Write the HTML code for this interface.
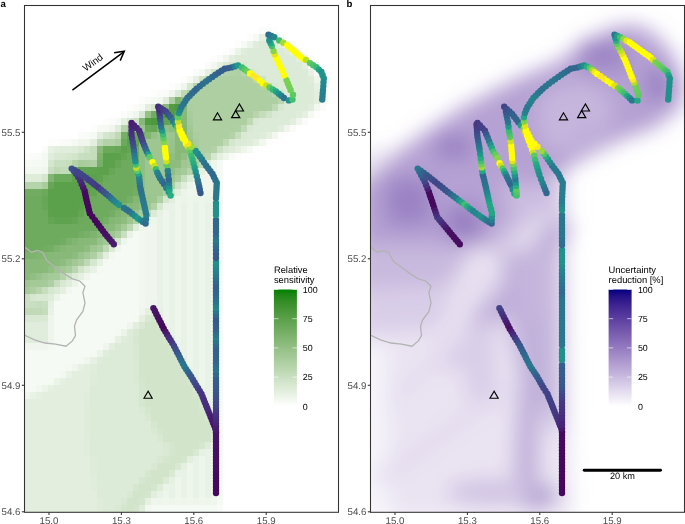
<!DOCTYPE html><html><head><meta charset="utf-8"><style>html,body{margin:0;padding:0;background:#fff;width:685px;height:524px;overflow:hidden}svg{display:block}</style></head><body><svg width="685" height="524" viewBox="0 0 685 524" text-rendering="geometricPrecision" font-family="Liberation Sans, Arial, Helvetica, sans-serif"><defs><clipPath id="ca"><rect x="24.5" y="5.5" width="314" height="506.5"/></clipPath><clipPath id="cb"><rect x="370.5" y="5.5" width="314" height="506.5"/></clipPath><filter id="fa" x="-10%" y="-10%" width="120%" height="120%"><feGaussianBlur stdDeviation="2"/></filter><filter id="fb" x="-20%" y="-20%" width="140%" height="140%"><feGaussianBlur stdDeviation="10"/></filter></defs><rect width="685" height="524" fill="#fff"/><g clip-path="url(#ca)"><g shape-rendering="crispEdges"><path fill="#fdfefc" d="M271.5 26.8H277.5V33.9H271.5zM247.4 33.8H253.4V40.9H247.4zM235.3 40.9H241.3V48.0H235.3zM223.2 47.9H229.2V55.0H223.2zM301.7 47.9H307.7V55.0H301.7zM211.1 54.9H217.2V62.0H211.1zM319.8 69.0H325.8V76.1H319.8zM181.0 76.0H187.0V83.1H181.0zM168.9 83.1H174.9V90.1H168.9zM325.8 83.1H331.8V90.1H325.8zM150.8 90.1H156.8V97.2H150.8zM325.8 90.1H331.8V97.2H325.8zM138.7 97.1H144.8V104.2H138.7zM325.8 97.1H331.8V104.2H325.8zM126.7 104.1H132.7V111.2H126.7zM313.7 111.2H319.8V118.3H313.7zM102.5 118.2H108.6V125.3H102.5zM90.4 125.2H96.5V132.3H90.4zM277.5 132.3H283.6V139.3H277.5zM48.2 139.3H60.3V146.4H48.2zM265.5 139.3H271.5V146.4H265.5zM253.4 146.3H259.4V153.4H253.4zM24.1 153.4H30.1V160.4H24.1zM235.3 153.4H241.3V160.4H235.3z"/><path fill="#fbfcfa" d="M259.4 26.8H265.5V33.9H259.4zM289.6 40.9H295.6V48.0H289.6zM307.7 54.9H313.7V62.0H307.7zM205.1 62.0H211.1V69.0H205.1zM313.7 62.0H319.8V69.0H313.7zM193.0 69.0H199.1V76.1H193.0zM156.8 90.1H162.9V97.2H156.8zM132.7 104.1H138.7V111.2H132.7zM319.8 104.1H325.8V111.2H319.8zM120.6 111.2H126.7V118.3H120.6zM108.6 118.2H114.6V125.3H108.6zM301.7 118.2H307.7V125.3H301.7zM289.6 125.2H295.6V132.3H289.6zM78.4 132.3H84.4V139.3H78.4zM60.3 139.3H66.3V146.4H60.3zM42.2 146.3H48.2V153.4H42.2zM30.1 153.4H36.1V160.4H30.1z"/><path fill="#f8fbf7" d="M265.5 26.8H271.5V33.9H265.5zM277.5 33.8H283.6V40.9H277.5zM229.2 47.9H235.3V55.0H229.2zM217.2 54.9H223.2V62.0H217.2zM319.8 76.0H325.8V83.1H319.8zM174.9 83.1H181.0V90.1H174.9zM162.9 90.1H168.9V97.2H162.9zM144.8 97.1H150.8V104.2H144.8zM84.4 132.3H90.4V139.3H84.4zM66.3 139.3H72.3V146.4H66.3zM36.1 153.4H42.2V160.4H36.1zM229.2 153.4H235.3V160.4H229.2zM217.2 504.9H223.2V511.9H217.2zM217.2 511.9H223.2V519.0H217.2z"/><path fill="#f6faf5" d="M253.4 33.8H259.4V40.9H253.4zM241.3 40.9H247.4V48.0H241.3zM295.6 47.9H301.7V55.0H295.6zM313.7 69.0H319.8V76.1H313.7zM187.0 76.0H193.0V83.1H187.0zM319.8 83.1H325.8V90.1H319.8zM150.8 97.1H156.8V104.2H150.8zM138.7 104.1H144.8V111.2H138.7zM126.7 111.2H132.7V118.3H126.7zM114.6 118.2H120.6V125.3H114.6zM96.5 125.2H102.5V132.3H96.5zM90.4 132.3H96.5V139.3H90.4zM247.4 146.3H253.4V153.4H247.4zM24.1 160.4H42.2V167.5H24.1zM217.2 160.4H223.2V167.5H217.2zM217.2 167.4H223.2V174.5H217.2zM217.2 174.4H223.2V181.5H217.2zM217.2 181.5H223.2V188.6H217.2zM217.2 188.5H223.2V195.6H217.2zM217.2 195.5H223.2V202.6H217.2zM217.2 202.6H223.2V209.6H217.2zM217.2 209.6H223.2V216.7H217.2zM217.2 216.6H223.2V223.7H217.2zM217.2 223.7H223.2V230.7H217.2zM217.2 230.7H223.2V237.8H217.2zM126.7 237.7H138.7V244.8H126.7zM217.2 237.7H223.2V244.8H217.2zM120.6 244.7H138.7V251.8H120.6zM217.2 244.7H223.2V251.8H217.2zM114.6 251.8H138.7V258.9H114.6zM217.2 251.8H223.2V258.9H217.2zM108.6 258.8H138.7V265.9H108.6zM217.2 258.8H223.2V265.9H217.2zM102.5 265.8H138.7V272.9H102.5zM217.2 265.8H223.2V272.9H217.2zM90.4 272.9H138.7V279.9H90.4zM217.2 272.9H223.2V279.9H217.2zM84.4 279.9H138.7V287.0H84.4zM217.2 279.9H223.2V287.0H217.2zM72.3 286.9H138.7V294.0H72.3zM217.2 286.9H223.2V294.0H217.2zM66.3 293.9H138.7V301.0H66.3zM217.2 293.9H223.2V301.0H217.2zM54.2 301.0H138.7V308.1H54.2zM217.2 301.0H223.2V308.1H217.2zM54.2 308.0H138.7V315.1H54.2zM217.2 308.0H223.2V315.1H217.2zM54.2 315.0H132.7V322.1H54.2zM217.2 315.0H223.2V322.1H217.2zM54.2 322.1H126.7V329.1H54.2zM217.2 322.1H223.2V329.1H217.2zM54.2 329.1H114.6V336.2H54.2zM217.2 329.1H223.2V336.2H217.2zM54.2 336.1H108.6V343.2H54.2zM217.2 336.1H223.2V343.2H217.2zM54.2 343.2H102.5V350.2H54.2zM217.2 343.2H223.2V350.2H217.2zM24.1 350.2H90.4V357.3H24.1zM217.2 350.2H223.2V357.3H217.2zM24.1 357.2H78.4V364.3H24.1zM217.2 357.2H223.2V364.3H217.2zM24.1 364.2H66.3V371.3H24.1zM217.2 364.2H223.2V371.3H217.2zM24.1 371.3H60.3V378.4H24.1zM217.2 371.3H223.2V378.4H217.2zM24.1 378.3H48.2V385.4H24.1zM217.2 378.3H223.2V385.4H217.2zM24.1 385.3H36.1V392.4H24.1zM217.2 385.3H223.2V392.4H217.2zM217.2 392.4H223.2V399.4H217.2zM217.2 399.4H223.2V406.5H217.2zM217.2 406.4H223.2V413.5H217.2zM217.2 413.5H223.2V420.5H217.2zM217.2 420.5H223.2V427.6H217.2zM217.2 441.6H223.2V448.7H217.2zM217.2 448.6H223.2V455.7H217.2zM217.2 455.6H223.2V462.7H217.2zM217.2 462.7H223.2V469.8H217.2zM217.2 469.7H223.2V476.8H217.2zM217.2 476.7H223.2V483.8H217.2zM217.2 483.8H223.2V490.8H217.2zM217.2 490.8H223.2V497.9H217.2zM217.2 497.8H223.2V504.9H217.2zM150.8 504.9H217.2V511.9H150.8zM150.8 511.9H217.2V519.0H150.8z"/><path fill="#f4f9f2" d="M199.1 69.0H205.1V76.1H199.1zM319.8 90.1H325.8V97.2H319.8zM319.8 97.1H325.8V104.2H319.8zM307.7 111.2H313.7V118.3H307.7zM102.5 125.2H108.6V132.3H102.5zM72.3 139.3H78.4V146.4H72.3zM42.2 153.4H48.2V160.4H42.2zM42.2 160.4H48.2V167.5H42.2zM132.7 230.7H138.7V237.8H132.7zM102.5 258.8H108.6V265.9H102.5zM96.5 265.8H102.5V272.9H96.5zM78.4 279.9H84.4V287.0H78.4zM60.3 293.9H66.3V301.0H60.3zM132.7 315.0H138.7V322.1H132.7zM114.6 329.1H120.6V336.2H114.6zM108.6 336.1H114.6V343.2H108.6zM48.2 343.2H54.2V350.2H48.2zM90.4 350.2H96.5V357.3H90.4zM78.4 357.2H84.4V364.3H78.4zM66.3 364.2H72.3V371.3H66.3zM48.2 378.3H54.2V385.4H48.2zM217.2 427.5H223.2V434.6H217.2zM217.2 434.6H223.2V441.6H217.2zM144.8 511.9H150.8V519.0H144.8z"/><path fill="#f2f7f0" d="M301.7 54.9H307.7V62.0H301.7zM211.1 62.0H217.2V69.0H211.1zM307.7 62.0H313.7V69.0H307.7zM156.8 97.1H162.9V104.2H156.8zM313.7 104.1H319.8V111.2H313.7zM271.5 132.3H277.5V139.3H271.5zM259.4 139.3H265.5V146.4H259.4zM24.1 167.4H42.2V174.5H24.1zM138.7 230.7H144.8V237.8H138.7zM138.7 237.7H144.8V244.8H138.7zM138.7 244.7H144.8V251.8H138.7zM108.6 251.8H114.6V258.9H108.6zM138.7 251.8H144.8V258.9H138.7zM138.7 258.8H144.8V265.9H138.7zM138.7 265.8H144.8V272.9H138.7zM138.7 272.9H144.8V279.9H138.7zM138.7 279.9H144.8V287.0H138.7zM66.3 286.9H72.3V294.0H66.3zM138.7 286.9H144.8V294.0H138.7zM138.7 293.9H144.8V301.0H138.7zM138.7 301.0H144.8V308.1H138.7zM60.3 371.3H66.3V378.4H60.3zM36.1 385.3H42.2V392.4H36.1zM144.8 504.9H150.8V511.9H144.8z"/><path fill="#f0f6ed" d="M283.6 40.9H289.6V48.0H283.6zM223.2 54.9H229.2V62.0H223.2zM181.0 83.1H187.0V90.1H181.0zM168.9 90.1H174.9V97.2H168.9zM132.7 111.2H138.7V118.3H132.7zM295.6 118.2H301.7V125.3H295.6zM108.6 125.2H114.6V132.3H108.6zM283.6 125.2H289.6V132.3H283.6zM78.4 139.3H90.4V146.4H78.4zM42.2 167.4H48.2V174.5H42.2zM205.1 167.4H217.2V174.5H205.1zM199.1 174.4H217.2V181.5H199.1zM193.0 181.5H217.2V188.6H193.0zM187.0 188.5H193.0V195.6H187.0zM199.1 188.5H205.1V195.6H199.1zM211.1 188.5H217.2V195.6H211.1zM144.8 223.7H156.8V230.7H144.8zM144.8 230.7H156.8V237.8H144.8zM144.8 237.7H156.8V244.8H144.8zM114.6 244.7H120.6V251.8H114.6zM144.8 244.7H156.8V251.8H144.8zM144.8 251.8H156.8V258.9H144.8zM144.8 258.8H156.8V265.9H144.8zM144.8 265.8H156.8V272.9H144.8zM84.4 272.9H90.4V279.9H84.4zM144.8 272.9H156.8V279.9H144.8zM144.8 279.9H156.8V287.0H144.8zM144.8 286.9H156.8V294.0H144.8zM144.8 293.9H156.8V301.0H144.8zM144.8 301.0H150.8V308.1H144.8zM138.7 308.0H144.8V315.1H138.7zM126.7 322.1H132.7V329.1H126.7zM24.1 343.2H48.2V350.2H24.1zM102.5 343.2H108.6V350.2H102.5zM84.4 357.2H90.4V364.3H84.4zM72.3 364.2H78.4V371.3H72.3zM24.1 392.4H30.1V399.4H24.1zM150.8 497.8H156.8V504.9H150.8zM162.9 497.8H168.9V504.9H162.9zM174.9 497.8H181.0V504.9H174.9zM187.0 497.8H193.0V504.9H187.0zM199.1 497.8H205.1V504.9H199.1zM211.1 497.8H217.2V504.9H211.1z"/><path fill="#eef5eb" d="M313.7 76.0H319.8V83.1H313.7zM241.3 146.3H247.4V153.4H241.3zM223.2 153.4H229.2V160.4H223.2zM211.1 160.4H217.2V167.5H211.1zM193.0 188.5H199.1V195.6H193.0zM205.1 188.5H211.1V195.6H205.1zM174.9 195.5H181.0V202.6H174.9zM187.0 195.5H193.0V202.6H187.0zM199.1 195.5H205.1V202.6H199.1zM211.1 195.5H217.2V202.6H211.1zM174.9 202.6H181.0V209.6H174.9zM187.0 202.6H193.0V209.6H187.0zM199.1 202.6H205.1V209.6H199.1zM211.1 202.6H217.2V209.6H211.1zM162.9 209.6H168.9V216.7H162.9zM174.9 209.6H181.0V216.7H174.9zM187.0 209.6H193.0V216.7H187.0zM199.1 209.6H205.1V216.7H199.1zM211.1 209.6H217.2V216.7H211.1zM150.8 216.6H156.8V223.7H150.8zM162.9 216.6H168.9V223.7H162.9zM174.9 216.6H181.0V223.7H174.9zM187.0 216.6H193.0V223.7H187.0zM199.1 216.6H205.1V223.7H199.1zM211.1 216.6H217.2V223.7H211.1zM138.7 223.7H144.8V230.7H138.7zM162.9 223.7H168.9V230.7H162.9zM174.9 223.7H181.0V230.7H174.9zM187.0 223.7H193.0V230.7H187.0zM199.1 223.7H205.1V230.7H199.1zM211.1 223.7H217.2V230.7H211.1zM162.9 230.7H168.9V237.8H162.9zM174.9 230.7H181.0V237.8H174.9zM187.0 230.7H193.0V237.8H187.0zM199.1 230.7H205.1V237.8H199.1zM211.1 230.7H217.2V237.8H211.1zM120.6 237.7H126.7V244.8H120.6zM162.9 237.7H168.9V244.8H162.9zM174.9 237.7H181.0V244.8H174.9zM187.0 237.7H193.0V244.8H187.0zM199.1 237.7H205.1V244.8H199.1zM211.1 237.7H217.2V244.8H211.1zM162.9 244.7H168.9V251.8H162.9zM174.9 244.7H181.0V251.8H174.9zM187.0 244.7H193.0V251.8H187.0zM199.1 244.7H205.1V251.8H199.1zM211.1 244.7H217.2V251.8H211.1zM162.9 251.8H168.9V258.9H162.9zM174.9 251.8H181.0V258.9H174.9zM187.0 251.8H193.0V258.9H187.0zM199.1 251.8H205.1V258.9H199.1zM211.1 251.8H217.2V258.9H211.1zM162.9 258.8H168.9V265.9H162.9zM174.9 258.8H181.0V265.9H174.9zM187.0 258.8H193.0V265.9H187.0zM199.1 258.8H205.1V265.9H199.1zM211.1 258.8H217.2V265.9H211.1zM162.9 265.8H168.9V272.9H162.9zM174.9 265.8H181.0V272.9H174.9zM187.0 265.8H193.0V272.9H187.0zM199.1 265.8H205.1V272.9H199.1zM211.1 265.8H217.2V272.9H211.1zM162.9 272.9H168.9V279.9H162.9zM174.9 272.9H181.0V279.9H174.9zM187.0 272.9H193.0V279.9H187.0zM199.1 272.9H205.1V279.9H199.1zM211.1 272.9H217.2V279.9H211.1zM162.9 279.9H168.9V287.0H162.9zM174.9 279.9H181.0V287.0H174.9zM187.0 279.9H193.0V287.0H187.0zM199.1 279.9H205.1V287.0H199.1zM211.1 279.9H217.2V287.0H211.1zM162.9 286.9H168.9V294.0H162.9zM174.9 286.9H181.0V294.0H174.9zM187.0 286.9H193.0V294.0H187.0zM199.1 286.9H205.1V294.0H199.1zM211.1 286.9H217.2V294.0H211.1zM162.9 293.9H168.9V301.0H162.9zM174.9 293.9H181.0V301.0H174.9zM187.0 293.9H193.0V301.0H187.0zM199.1 293.9H205.1V301.0H199.1zM211.1 293.9H217.2V301.0H211.1zM150.8 301.0H156.8V308.1H150.8zM162.9 301.0H168.9V308.1H162.9zM174.9 301.0H181.0V308.1H174.9zM187.0 301.0H193.0V308.1H187.0zM199.1 301.0H205.1V308.1H199.1zM211.1 301.0H217.2V308.1H211.1zM162.9 308.0H168.9V315.1H162.9zM174.9 308.0H181.0V315.1H174.9zM187.0 308.0H193.0V315.1H187.0zM199.1 308.0H205.1V315.1H199.1zM211.1 308.0H217.2V315.1H211.1zM48.2 315.0H54.2V322.1H48.2zM162.9 315.0H168.9V322.1H162.9zM174.9 315.0H181.0V322.1H174.9zM187.0 315.0H193.0V322.1H187.0zM199.1 315.0H205.1V322.1H199.1zM211.1 315.0H217.2V322.1H211.1zM48.2 322.1H54.2V329.1H48.2zM174.9 322.1H181.0V329.1H174.9zM187.0 322.1H193.0V329.1H187.0zM199.1 322.1H205.1V329.1H199.1zM211.1 322.1H217.2V329.1H211.1zM48.2 329.1H54.2V336.2H48.2zM174.9 329.1H181.0V336.2H174.9zM187.0 329.1H193.0V336.2H187.0zM199.1 329.1H205.1V336.2H199.1zM211.1 329.1H217.2V336.2H211.1zM48.2 336.1H54.2V343.2H48.2zM174.9 336.1H181.0V343.2H174.9zM187.0 336.1H193.0V343.2H187.0zM199.1 336.1H205.1V343.2H199.1zM211.1 336.1H217.2V343.2H211.1zM187.0 343.2H193.0V350.2H187.0zM199.1 343.2H205.1V350.2H199.1zM211.1 343.2H217.2V350.2H211.1zM187.0 350.2H193.0V357.3H187.0zM199.1 350.2H205.1V357.3H199.1zM211.1 350.2H217.2V357.3H211.1zM187.0 357.2H193.0V364.3H187.0zM199.1 357.2H205.1V364.3H199.1zM211.1 357.2H217.2V364.3H211.1zM199.1 364.2H205.1V371.3H199.1zM211.1 364.2H217.2V371.3H211.1zM199.1 371.3H205.1V378.4H199.1zM211.1 371.3H217.2V378.4H211.1zM199.1 378.3H205.1V385.4H199.1zM211.1 378.3H217.2V385.4H211.1zM211.1 385.3H217.2V392.4H211.1zM211.1 392.4H217.2V399.4H211.1zM211.1 399.4H217.2V406.5H211.1zM211.1 406.4H217.2V413.5H211.1zM211.1 413.5H217.2V420.5H211.1zM211.1 441.6H217.2V448.7H211.1zM211.1 448.6H217.2V455.7H211.1zM199.1 455.6H205.1V462.7H199.1zM211.1 455.6H217.2V462.7H211.1zM187.0 462.7H193.0V469.8H187.0zM199.1 462.7H205.1V469.8H199.1zM211.1 462.7H217.2V469.8H211.1zM187.0 469.7H193.0V476.8H187.0zM199.1 469.7H205.1V476.8H199.1zM211.1 469.7H217.2V476.8H211.1zM174.9 476.7H181.0V483.8H174.9zM187.0 476.7H193.0V483.8H187.0zM199.1 476.7H205.1V483.8H199.1zM211.1 476.7H217.2V483.8H211.1zM174.9 483.8H181.0V490.8H174.9zM187.0 483.8H193.0V490.8H187.0zM199.1 483.8H205.1V490.8H199.1zM211.1 483.8H217.2V490.8H211.1zM162.9 490.8H168.9V497.9H162.9zM174.9 490.8H181.0V497.9H174.9zM187.0 490.8H193.0V497.9H187.0zM199.1 490.8H205.1V497.9H199.1zM211.1 490.8H217.2V497.9H211.1zM156.8 497.8H162.9V504.9H156.8zM168.9 497.8H174.9V504.9H168.9zM181.0 497.8H187.0V504.9H181.0zM193.0 497.8H199.1V504.9H193.0zM205.1 497.8H211.1V504.9H205.1z"/><path fill="#ebf4e8" d="M271.5 33.8H277.5V40.9H271.5zM247.4 40.9H253.4V48.0H247.4zM235.3 47.9H241.3V55.0H235.3zM187.0 181.5H193.0V188.6H187.0zM181.0 188.5H187.0V195.6H181.0zM181.0 195.5H187.0V202.6H181.0zM193.0 195.5H199.1V202.6H193.0zM205.1 195.5H211.1V202.6H205.1zM72.3 279.9H78.4V287.0H72.3zM54.2 293.9H60.3V301.0H54.2zM120.6 329.1H126.7V336.2H120.6zM174.9 343.2H181.0V350.2H174.9zM96.5 350.2H102.5V357.3H96.5zM187.0 364.2H193.0V371.3H187.0zM54.2 378.3H60.3V385.4H54.2zM42.2 385.3H48.2V392.4H42.2zM199.1 385.3H205.1V392.4H199.1zM162.9 483.8H168.9V490.8H162.9z"/><path fill="#e9f2e6" d="M193.0 174.4H199.1V181.5H193.0zM162.9 202.6H174.9V209.6H162.9zM181.0 202.6H187.0V209.6H181.0zM193.0 202.6H199.1V209.6H193.0zM205.1 202.6H211.1V209.6H205.1zM168.9 209.6H174.9V216.7H168.9zM181.0 209.6H187.0V216.7H181.0zM193.0 209.6H199.1V216.7H193.0zM205.1 209.6H211.1V216.7H205.1zM156.8 216.6H162.9V223.7H156.8zM168.9 216.6H174.9V223.7H168.9zM181.0 216.6H187.0V223.7H181.0zM193.0 216.6H199.1V223.7H193.0zM205.1 216.6H211.1V223.7H205.1zM156.8 223.7H162.9V230.7H156.8zM168.9 223.7H174.9V230.7H168.9zM181.0 223.7H187.0V230.7H181.0zM193.0 223.7H199.1V230.7H193.0zM205.1 223.7H211.1V230.7H205.1zM126.7 230.7H132.7V237.8H126.7zM156.8 230.7H162.9V237.8H156.8zM168.9 230.7H174.9V237.8H168.9zM181.0 230.7H187.0V237.8H181.0zM193.0 230.7H199.1V237.8H193.0zM205.1 230.7H211.1V237.8H205.1zM156.8 237.7H162.9V244.8H156.8zM168.9 237.7H174.9V244.8H168.9zM181.0 237.7H187.0V244.8H181.0zM193.0 237.7H199.1V244.8H193.0zM205.1 237.7H211.1V244.8H205.1zM156.8 244.7H162.9V251.8H156.8zM168.9 244.7H174.9V251.8H168.9zM181.0 244.7H187.0V251.8H181.0zM193.0 244.7H199.1V251.8H193.0zM205.1 244.7H211.1V251.8H205.1zM156.8 251.8H162.9V258.9H156.8zM168.9 251.8H174.9V258.9H168.9zM181.0 251.8H187.0V258.9H181.0zM193.0 251.8H199.1V258.9H193.0zM205.1 251.8H211.1V258.9H205.1zM156.8 258.8H162.9V265.9H156.8zM168.9 258.8H174.9V265.9H168.9zM181.0 258.8H187.0V265.9H181.0zM193.0 258.8H199.1V265.9H193.0zM205.1 258.8H211.1V265.9H205.1zM90.4 265.8H96.5V272.9H90.4zM156.8 265.8H162.9V272.9H156.8zM168.9 265.8H174.9V272.9H168.9zM181.0 265.8H187.0V272.9H181.0zM193.0 265.8H199.1V272.9H193.0zM205.1 265.8H211.1V272.9H205.1zM156.8 272.9H162.9V279.9H156.8zM168.9 272.9H174.9V279.9H168.9zM181.0 272.9H187.0V279.9H181.0zM193.0 272.9H199.1V279.9H193.0zM205.1 272.9H211.1V279.9H205.1zM156.8 279.9H162.9V287.0H156.8zM168.9 279.9H174.9V287.0H168.9zM181.0 279.9H187.0V287.0H181.0zM193.0 279.9H199.1V287.0H193.0zM205.1 279.9H211.1V287.0H205.1zM156.8 286.9H162.9V294.0H156.8zM168.9 286.9H174.9V294.0H168.9zM181.0 286.9H187.0V294.0H181.0zM193.0 286.9H199.1V294.0H193.0zM205.1 286.9H211.1V294.0H205.1zM156.8 293.9H162.9V301.0H156.8zM168.9 293.9H174.9V301.0H168.9zM181.0 293.9H187.0V301.0H181.0zM193.0 293.9H199.1V301.0H193.0zM205.1 293.9H211.1V301.0H205.1zM156.8 301.0H162.9V308.1H156.8zM168.9 301.0H174.9V308.1H168.9zM181.0 301.0H187.0V308.1H181.0zM193.0 301.0H199.1V308.1H193.0zM205.1 301.0H211.1V308.1H205.1zM48.2 308.0H54.2V315.1H48.2zM168.9 308.0H174.9V315.1H168.9zM181.0 308.0H187.0V315.1H181.0zM193.0 308.0H199.1V315.1H193.0zM205.1 308.0H211.1V315.1H205.1zM168.9 315.0H174.9V322.1H168.9zM181.0 315.0H187.0V322.1H181.0zM193.0 315.0H199.1V322.1H193.0zM205.1 315.0H211.1V322.1H205.1zM162.9 322.1H174.9V329.1H162.9zM181.0 322.1H187.0V329.1H181.0zM193.0 322.1H199.1V329.1H193.0zM205.1 322.1H211.1V329.1H205.1zM168.9 329.1H174.9V336.2H168.9zM181.0 329.1H187.0V336.2H181.0zM193.0 329.1H199.1V336.2H193.0zM205.1 329.1H211.1V336.2H205.1zM181.0 336.1H187.0V343.2H181.0zM193.0 336.1H199.1V343.2H193.0zM205.1 336.1H211.1V343.2H205.1zM181.0 343.2H187.0V350.2H181.0zM193.0 343.2H199.1V350.2H193.0zM205.1 343.2H211.1V350.2H205.1zM181.0 350.2H187.0V357.3H181.0zM193.0 350.2H199.1V357.3H193.0zM205.1 350.2H211.1V357.3H205.1zM193.0 357.2H199.1V364.3H193.0zM205.1 357.2H211.1V364.3H205.1zM193.0 364.2H199.1V371.3H193.0zM205.1 364.2H211.1V371.3H205.1zM66.3 371.3H72.3V378.4H66.3zM193.0 371.3H199.1V378.4H193.0zM205.1 371.3H211.1V378.4H205.1zM205.1 378.3H211.1V385.4H205.1zM205.1 385.3H211.1V392.4H205.1zM30.1 392.4H36.1V399.4H30.1zM205.1 392.4H211.1V399.4H205.1zM205.1 448.6H211.1V455.7H205.1zM193.0 455.6H199.1V462.7H193.0zM205.1 455.6H211.1V462.7H205.1zM193.0 462.7H199.1V469.8H193.0zM205.1 462.7H211.1V469.8H205.1zM174.9 469.7H187.0V476.8H174.9zM193.0 469.7H199.1V476.8H193.0zM205.1 469.7H211.1V476.8H205.1zM181.0 476.7H187.0V483.8H181.0zM193.0 476.7H199.1V483.8H193.0zM205.1 476.7H211.1V483.8H205.1zM168.9 483.8H174.9V490.8H168.9zM181.0 483.8H187.0V490.8H181.0zM193.0 483.8H199.1V490.8H193.0zM205.1 483.8H211.1V490.8H205.1zM156.8 490.8H162.9V497.9H156.8zM168.9 490.8H174.9V497.9H168.9zM181.0 490.8H187.0V497.9H181.0zM193.0 490.8H199.1V497.9H193.0zM205.1 490.8H211.1V497.9H205.1z"/><path fill="#e7f1e3" d="M289.6 47.9H295.6V55.0H289.6zM307.7 69.0H313.7V76.1H307.7zM193.0 76.0H199.1V83.1H193.0zM313.7 83.1H319.8V90.1H313.7zM48.2 146.3H54.2V153.4H48.2zM156.8 209.6H162.9V216.7H156.8zM144.8 216.6H150.8V223.7H144.8zM96.5 258.8H102.5V265.9H96.5zM48.2 301.0H54.2V308.1H48.2zM156.8 308.0H162.9V315.1H156.8zM114.6 336.1H120.6V343.2H114.6zM90.4 357.2H96.5V364.3H90.4zM78.4 364.2H84.4V371.3H78.4zM205.1 399.4H211.1V406.5H205.1zM199.1 448.6H205.1V455.7H199.1zM168.9 476.7H174.9V483.8H168.9z"/><path fill="#e5f0e1" d="M259.4 33.8H265.5V40.9H259.4zM217.2 62.0H223.2V69.0H217.2zM205.1 69.0H211.1V76.1H205.1zM301.7 111.2H307.7V118.3H301.7zM120.6 118.2H126.7V125.3H120.6zM265.5 132.3H271.5V139.3H265.5zM253.4 139.3H259.4V146.4H253.4zM235.3 146.3H241.3V153.4H235.3zM217.2 153.4H223.2V160.4H217.2zM199.1 167.4H205.1V174.5H199.1zM78.4 272.9H84.4V279.9H78.4zM60.3 286.9H66.3V294.0H60.3zM144.8 308.0H150.8V315.1H144.8zM138.7 315.0H144.8V322.1H138.7zM60.3 378.3H66.3V385.4H60.3zM193.0 378.3H199.1V385.4H193.0zM48.2 385.3H54.2V392.4H48.2zM36.1 392.4H42.2V399.4H36.1zM199.1 392.4H205.1V399.4H199.1zM181.0 462.7H187.0V469.8H181.0zM144.8 497.8H150.8V504.9H144.8z"/><path fill="#e3eede" d="M277.5 40.9H283.6V48.0H277.5zM229.2 54.9H235.3V62.0H229.2zM295.6 54.9H301.7V62.0H295.6zM301.7 62.0H307.7V69.0H301.7zM313.7 90.1H319.8V97.2H313.7zM313.7 97.1H319.8V104.2H313.7zM144.8 104.1H150.8V111.2H144.8zM289.6 118.2H295.6V125.3H289.6zM277.5 125.2H283.6V132.3H277.5zM96.5 132.3H102.5V139.3H96.5zM90.4 139.3H96.5V146.4H90.4zM54.2 146.3H60.3V153.4H54.2zM174.9 188.5H181.0V195.6H174.9zM168.9 195.5H174.9V202.6H168.9zM102.5 251.8H108.6V258.9H102.5zM132.7 322.1H138.7V329.1H132.7zM108.6 343.2H114.6V350.2H108.6zM181.0 357.2H187.0V364.3H181.0zM84.4 364.2H90.4V371.3H84.4zM72.3 371.3H90.4V378.4H72.3zM66.3 378.3H90.4V385.4H66.3zM54.2 385.3H90.4V392.4H54.2zM42.2 392.4H84.4V399.4H42.2zM24.1 399.4H84.4V406.5H24.1zM24.1 406.4H84.4V413.5H24.1zM24.1 413.5H84.4V420.5H24.1zM24.1 420.5H84.4V427.6H24.1zM211.1 420.5H217.2V427.6H211.1zM24.1 427.5H84.4V434.6H24.1zM24.1 434.6H84.4V441.6H24.1zM24.1 441.6H84.4V448.7H24.1zM24.1 448.6H84.4V455.7H24.1zM24.1 455.6H90.4V462.7H24.1zM187.0 455.6H193.0V462.7H187.0zM24.1 462.7H90.4V469.8H24.1zM24.1 469.7H90.4V476.8H24.1zM24.1 476.7H90.4V483.8H24.1zM24.1 483.8H90.4V490.8H24.1zM24.1 490.8H96.5V497.9H24.1zM150.8 490.8H156.8V497.9H150.8zM24.1 497.8H96.5V504.9H24.1zM24.1 504.9H96.5V511.9H24.1zM24.1 511.9H96.5V519.0H24.1zM138.7 511.9H144.8V519.0H138.7z"/><path fill="#e1eddc" d="M265.5 33.8H271.5V40.9H265.5zM253.4 40.9H259.4V48.0H253.4zM241.3 47.9H247.4V55.0H241.3zM162.9 97.1H168.9V104.2H162.9zM307.7 104.1H313.7V111.2H307.7zM60.3 146.3H72.3V153.4H60.3zM48.2 153.4H54.2V160.4H48.2zM181.0 181.5H187.0V188.6H181.0zM66.3 279.9H72.3V287.0H66.3zM156.8 315.0H162.9V322.1H156.8zM24.1 322.1H48.2V329.1H24.1zM24.1 329.1H48.2V336.2H24.1zM24.1 336.1H48.2V343.2H24.1zM168.9 336.1H174.9V343.2H168.9zM102.5 350.2H108.6V357.3H102.5zM90.4 364.2H96.5V371.3H90.4zM187.0 371.3H193.0V378.4H187.0zM84.4 392.4H90.4V399.4H84.4zM84.4 399.4H90.4V406.5H84.4zM205.1 406.4H211.1V413.5H205.1zM84.4 434.6H90.4V441.6H84.4zM84.4 441.6H90.4V448.7H84.4zM84.4 448.6H90.4V455.7H84.4zM90.4 476.7H96.5V483.8H90.4zM90.4 483.8H96.5V490.8H90.4z"/><path fill="#dfecd9" d="M283.6 47.9H289.6V55.0H283.6zM307.7 76.0H313.7V83.1H307.7zM295.6 111.2H301.7V118.3H295.6zM114.6 125.2H120.6V132.3H114.6zM259.4 132.3H265.5V139.3H259.4zM247.4 139.3H253.4V146.4H247.4zM72.3 146.3H78.4V153.4H72.3zM229.2 146.3H235.3V153.4H229.2zM205.1 160.4H211.1V167.5H205.1zM24.1 174.4H42.2V181.5H24.1zM132.7 223.7H138.7V230.7H132.7zM84.4 265.8H90.4V272.9H84.4zM48.2 293.9H54.2V301.0H48.2zM150.8 308.0H156.8V315.1H150.8zM126.7 329.1H132.7V336.2H126.7zM120.6 336.1H126.7V343.2H120.6zM174.9 350.2H181.0V357.3H174.9zM96.5 357.2H102.5V364.3H96.5zM90.4 371.3H96.5V378.4H90.4zM90.4 378.3H96.5V385.4H90.4zM84.4 406.4H90.4V413.5H84.4zM84.4 413.5H90.4V420.5H84.4zM84.4 420.5H90.4V427.6H84.4zM84.4 427.5H90.4V434.6H84.4zM205.1 441.6H211.1V448.7H205.1zM90.4 455.6H96.5V462.7H90.4zM90.4 462.7H96.5V469.8H90.4zM90.4 469.7H96.5V476.8H90.4zM156.8 483.8H162.9V490.8H156.8zM96.5 497.8H102.5V504.9H96.5zM96.5 504.9H102.5V511.9H96.5zM138.7 504.9H144.8V511.9H138.7zM96.5 511.9H102.5V519.0H96.5z"/><path fill="#dcebd7" d="M259.4 40.9H277.5V48.0H259.4zM247.4 47.9H283.6V55.0H247.4zM235.3 54.9H295.6V62.0H235.3zM247.4 62.0H301.7V69.0H247.4zM259.4 69.0H307.7V76.1H259.4zM265.5 76.0H307.7V83.1H265.5zM277.5 83.1H313.7V90.1H277.5zM174.9 90.1H181.0V97.2H174.9zM283.6 90.1H313.7V97.2H283.6zM289.6 97.1H313.7V104.2H289.6zM283.6 104.1H307.7V111.2H283.6zM277.5 111.2H295.6V118.3H277.5zM259.4 118.2H289.6V125.3H259.4zM253.4 125.2H277.5V132.3H253.4zM247.4 132.3H259.4V139.3H247.4zM235.3 139.3H247.4V146.4H235.3zM187.0 174.4H193.0V181.5H187.0zM150.8 209.6H156.8V216.7H150.8zM108.6 244.7H114.6V251.8H108.6zM72.3 272.9H78.4V279.9H72.3zM54.2 286.9H60.3V294.0H54.2zM162.9 329.1H168.9V336.2H162.9zM126.7 336.1H132.7V343.2H126.7zM114.6 343.2H132.7V350.2H114.6zM108.6 350.2H132.7V357.3H108.6zM102.5 357.2H132.7V364.3H102.5zM96.5 364.2H132.7V371.3H96.5zM96.5 371.3H132.7V378.4H96.5zM96.5 378.3H132.7V385.4H96.5zM90.4 385.3H138.7V392.4H90.4zM90.4 392.4H138.7V399.4H90.4zM90.4 399.4H138.7V406.5H90.4zM90.4 406.4H138.7V413.5H90.4zM90.4 413.5H144.8V420.5H90.4zM90.4 420.5H150.8V427.6H90.4zM90.4 427.5H150.8V434.6H90.4zM90.4 434.6H156.8V441.6H90.4zM211.1 434.6H217.2V441.6H211.1zM90.4 441.6H162.9V448.7H90.4zM90.4 448.6H162.9V455.7H90.4zM96.5 455.6H156.8V462.7H96.5zM96.5 462.7H150.8V469.8H96.5zM96.5 469.7H144.8V476.8H96.5zM96.5 476.7H138.7V483.8H96.5zM162.9 476.7H168.9V483.8H162.9zM96.5 483.8H132.7V490.8H96.5zM96.5 490.8H126.7V497.9H96.5zM102.5 497.8H120.6V504.9H102.5zM102.5 504.9H114.6V511.9H102.5zM102.5 511.9H114.6V519.0H102.5z"/><path fill="#dae9d4" d="M223.2 62.0H229.2V69.0H223.2zM253.4 69.0H259.4V76.1H253.4zM271.5 111.2H277.5V118.3H271.5zM126.7 118.2H132.7V125.3H126.7zM241.3 132.3H247.4V139.3H241.3zM78.4 146.3H84.4V153.4H78.4zM223.2 146.3H229.2V153.4H223.2zM36.1 293.9H48.2V301.0H36.1zM42.2 315.0H48.2V322.1H42.2zM132.7 357.2H138.7V364.3H132.7zM132.7 364.2H138.7V371.3H132.7zM132.7 371.3H138.7V378.4H132.7zM132.7 378.3H138.7V385.4H132.7zM193.0 385.3H199.1V392.4H193.0zM138.7 406.4H144.8V413.5H138.7zM150.8 427.5H156.8V434.6H150.8zM162.9 448.6H168.9V455.7H162.9zM193.0 448.6H199.1V455.7H193.0zM168.9 469.7H174.9V476.8H168.9zM114.6 504.9H120.6V511.9H114.6z"/><path fill="#d8e8d2" d="M241.3 62.0H247.4V69.0H241.3zM271.5 83.1H277.5V90.1H271.5zM283.6 97.1H289.6V104.2H283.6zM138.7 111.2H144.8V118.3H138.7zM253.4 118.2H259.4V125.3H253.4zM247.4 125.2H253.4V132.3H247.4zM54.2 153.4H66.3V160.4H54.2zM60.3 279.9H66.3V287.0H60.3zM24.1 315.0H42.2V322.1H24.1zM144.8 315.0H150.8V322.1H144.8zM138.7 322.1H144.8V329.1H138.7zM132.7 329.1H138.7V336.2H132.7zM132.7 343.2H138.7V350.2H132.7zM132.7 350.2H138.7V357.3H132.7zM181.0 364.2H187.0V371.3H181.0zM199.1 399.4H205.1V406.5H199.1zM144.8 413.5H150.8V420.5H144.8zM205.1 413.5H211.1V420.5H205.1zM211.1 427.5H217.2V434.6H211.1zM156.8 434.6H162.9V441.6H156.8zM162.9 441.6H168.9V448.7H162.9zM156.8 455.6H162.9V462.7H156.8zM150.8 462.7H156.8V469.8H150.8zM174.9 462.7H181.0V469.8H174.9zM126.7 490.8H132.7V497.9H126.7zM120.6 497.8H126.7V504.9H120.6zM114.6 511.9H120.6V519.0H114.6z"/><path fill="#d6e7cf" d="M187.0 83.1H193.0V90.1H187.0zM277.5 104.1H283.6V111.2H277.5zM66.3 153.4H72.3V160.4H66.3zM211.1 153.4H217.2V160.4H211.1zM156.8 202.6H162.9V209.6H156.8zM90.4 258.8H96.5V265.9H90.4zM48.2 286.9H54.2V294.0H48.2zM30.1 293.9H36.1V301.0H30.1zM156.8 322.1H162.9V329.1H156.8zM132.7 336.1H138.7V343.2H132.7zM168.9 343.2H174.9V350.2H168.9zM138.7 399.4H144.8V406.5H138.7zM150.8 420.5H156.8V427.6H150.8zM199.1 441.6H205.1V448.7H199.1zM144.8 469.7H150.8V476.8H144.8zM138.7 476.7H144.8V483.8H138.7zM132.7 483.8H138.7V490.8H132.7z"/><path fill="#d4e6cd" d="M229.2 62.0H235.3V69.0H229.2zM211.1 69.0H217.2V76.1H211.1zM150.8 104.1H156.8V111.2H150.8zM102.5 132.3H108.6V139.3H102.5zM229.2 139.3H235.3V146.4H229.2zM48.2 160.4H54.2V167.5H48.2zM42.2 174.4H48.2V181.5H42.2zM162.9 195.5H168.9V202.6H162.9zM114.6 237.7H120.6V244.8H114.6zM150.8 315.0H156.8V322.1H150.8zM162.9 336.1H168.9V343.2H162.9zM174.9 357.2H181.0V364.3H174.9zM138.7 378.3H144.8V385.4H138.7zM187.0 378.3H193.0V385.4H187.0zM138.7 385.3H144.8V392.4H138.7zM138.7 392.4H144.8V399.4H138.7zM193.0 392.4H199.1V399.4H193.0zM144.8 406.4H150.8V413.5H144.8zM199.1 406.4H205.1V413.5H199.1zM156.8 427.5H162.9V434.6H156.8zM168.9 441.6H174.9V448.7H168.9zM168.9 448.6H174.9V455.7H168.9zM162.9 455.6H168.9V462.7H162.9zM181.0 455.6H187.0V462.7H181.0zM150.8 483.8H156.8V490.8H150.8zM144.8 490.8H150.8V497.9H144.8zM138.7 497.8H144.8V504.9H138.7zM120.6 504.9H126.7V511.9H120.6zM132.7 504.9H138.7V511.9H132.7zM132.7 511.9H138.7V519.0H132.7z"/><path fill="#d2e4ca" d="M235.3 62.0H241.3V69.0H235.3zM277.5 90.1H283.6V97.2H277.5zM72.3 153.4H78.4V160.4H72.3zM168.9 188.5H174.9V195.6H168.9zM138.7 216.6H144.8V223.7H138.7zM78.4 265.8H84.4V272.9H78.4zM144.8 322.1H156.8V329.1H144.8zM138.7 329.1H162.9V336.2H138.7zM138.7 336.1H162.9V343.2H138.7zM138.7 343.2H168.9V350.2H138.7zM138.7 350.2H174.9V357.3H138.7zM138.7 357.2H174.9V364.3H138.7zM138.7 364.2H181.0V371.3H138.7zM138.7 371.3H187.0V378.4H138.7zM144.8 378.3H187.0V385.4H144.8zM144.8 385.3H193.0V392.4H144.8zM144.8 392.4H193.0V399.4H144.8zM144.8 399.4H199.1V406.5H144.8zM150.8 406.4H199.1V413.5H150.8zM150.8 413.5H205.1V420.5H150.8zM156.8 420.5H211.1V427.6H156.8zM162.9 427.5H211.1V434.6H162.9zM162.9 434.6H211.1V441.6H162.9zM174.9 441.6H199.1V448.7H174.9zM174.9 448.6H193.0V455.7H174.9zM168.9 455.6H181.0V462.7H168.9zM156.8 462.7H174.9V469.8H156.8zM150.8 469.7H168.9V476.8H150.8zM144.8 476.7H162.9V483.8H144.8zM138.7 483.8H150.8V490.8H138.7zM132.7 490.8H144.8V497.9H132.7zM126.7 497.8H138.7V504.9H126.7zM126.7 504.9H132.7V511.9H126.7zM120.6 511.9H132.7V519.0H120.6z"/><path fill="#cfe3c8" d="M199.1 76.0H205.1V83.1H199.1zM259.4 76.0H265.5V83.1H259.4zM265.5 111.2H271.5V118.3H265.5zM84.4 146.3H90.4V153.4H84.4z"/><path fill="#cde2c6" d="M108.6 132.3H114.6V139.3H108.6zM193.0 167.4H199.1V174.5H193.0zM174.9 181.5H181.0V188.6H174.9zM66.3 272.9H72.3V279.9H66.3z"/><path fill="#cbe0c3" d="M247.4 69.0H253.4V76.1H247.4zM132.7 118.2H138.7V125.3H132.7zM217.2 146.3H223.2V153.4H217.2zM24.1 293.9H30.1V301.0H24.1zM24.1 301.0H30.1V308.1H24.1z"/><path fill="#c9dfc1" d="M78.4 153.4H84.4V160.4H78.4zM54.2 160.4H66.3V167.5H54.2zM48.2 167.4H54.2V174.5H48.2zM120.6 230.7H126.7V237.8H120.6zM30.1 301.0H36.1V308.1H30.1zM42.2 301.0H48.2V308.1H42.2z"/><path fill="#c7debe" d="M235.3 132.3H241.3V139.3H235.3zM84.4 153.4H90.4V160.4H84.4zM66.3 160.4H72.3V167.5H66.3zM181.0 174.4H187.0V181.5H181.0zM96.5 251.8H102.5V258.9H96.5zM54.2 279.9H60.3V287.0H54.2zM42.2 286.9H48.2V294.0H42.2zM36.1 301.0H42.2V308.1H36.1z"/><path fill="#c5ddbc" d="M265.5 83.1H271.5V90.1H265.5zM259.4 111.2H265.5V118.3H259.4zM90.4 146.3H96.5V153.4H90.4zM90.4 153.4H96.5V160.4H90.4zM42.2 308.0H48.2V315.1H42.2z"/><path fill="#c2dbb9" d="M60.3 167.4H72.3V174.5H60.3zM144.8 209.6H150.8V216.7H144.8z"/><path fill="#c0dab7" d="M217.2 69.0H223.2V76.1H217.2zM241.3 125.2H247.4V132.3H241.3zM96.5 139.3H102.5V146.4H96.5zM199.1 160.4H205.1V167.5H199.1zM24.1 308.0H42.2V315.1H24.1z"/><path fill="#bed9b4" d="M181.0 90.1H187.0V97.2H181.0zM271.5 104.1H277.5V111.2H271.5zM247.4 118.2H253.4V125.3H247.4zM114.6 132.3H120.6V139.3H114.6zM223.2 139.3H229.2V146.4H223.2zM54.2 167.4H60.3V174.5H54.2zM102.5 244.7H108.6V251.8H102.5zM84.4 258.8H90.4V265.9H84.4z"/><path fill="#bcd8b2" d="M156.8 104.1H162.9V111.2H156.8zM126.7 223.7H132.7V230.7H126.7z"/><path fill="#bad6b0" d="M205.1 76.0H211.1V83.1H205.1zM253.4 76.0H259.4V83.1H253.4zM193.0 83.1H199.1V90.1H193.0zM271.5 90.1H277.5V97.2H271.5zM277.5 97.1H283.6V104.2H277.5zM72.3 265.8H78.4V272.9H72.3z"/><path fill="#b8d5ad" d="M241.3 69.0H247.4V76.1H241.3zM253.4 111.2H259.4V118.3H253.4zM205.1 153.4H211.1V160.4H205.1zM36.1 286.9H42.2V294.0H36.1z"/><path fill="#b6d4ab" d="M120.6 125.2H126.7V132.3H120.6zM187.0 167.4H193.0V174.5H187.0zM24.1 181.5H42.2V188.6H24.1zM60.3 272.9H66.3V279.9H60.3z"/><path fill="#b3d2a8" d="M223.2 69.0H229.2V76.1H223.2zM229.2 132.3H235.3V139.3H229.2zM102.5 139.3H114.6V146.4H102.5zM211.1 146.3H217.2V153.4H211.1zM72.3 160.4H78.4V167.5H72.3zM108.6 237.7H114.6V244.8H108.6z"/><path fill="#b1d1a6" d="M229.2 69.0H235.3V76.1H229.2zM259.4 83.1H265.5V90.1H259.4zM150.8 202.6H156.8V209.6H150.8zM132.7 216.6H138.7V223.7H132.7z"/><path fill="#afd0a4" d="M235.3 69.0H241.3V76.1H235.3zM211.1 76.0H217.2V83.1H211.1zM247.4 76.0H253.4V83.1H247.4zM199.1 83.1H205.1V90.1H199.1zM187.0 90.1H193.0V97.2H187.0zM265.5 90.1H271.5V97.2H265.5zM265.5 104.1H271.5V111.2H265.5zM235.3 125.2H241.3V132.3H235.3zM217.2 139.3H223.2V146.4H217.2zM162.9 188.5H168.9V195.6H162.9zM156.8 195.5H162.9V202.6H156.8zM48.2 279.9H54.2V287.0H48.2z"/><path fill="#adcfa1" d="M217.2 76.0H247.4V83.1H217.2zM205.1 83.1H259.4V90.1H205.1zM193.0 90.1H265.5V97.2H193.0zM168.9 97.1H174.9V104.2H168.9zM187.0 97.1H277.5V104.2H187.0zM193.0 104.1H265.5V111.2H193.0zM193.0 111.2H253.4V118.3H193.0zM193.0 118.2H247.4V125.3H193.0zM193.0 125.2H235.3V132.3H193.0zM199.1 132.3H229.2V139.3H199.1zM199.1 139.3H217.2V146.4H199.1zM199.1 146.3H211.1V153.4H199.1zM199.1 153.4H205.1V160.4H199.1zM90.4 160.4H96.5V167.5H90.4zM168.9 181.5H174.9V188.6H168.9zM90.4 251.8H96.5V258.9H90.4zM30.1 286.9H36.1V294.0H30.1z"/><path fill="#abcd9f" d="M187.0 104.1H193.0V111.2H187.0zM126.7 125.2H132.7V132.3H126.7zM193.0 132.3H199.1V139.3H193.0zM114.6 139.3H120.6V146.4H114.6zM84.4 160.4H90.4V167.5H84.4zM193.0 160.4H199.1V167.5H193.0zM174.9 174.4H181.0V181.5H174.9zM114.6 230.7H120.6V237.8H114.6zM78.4 258.8H84.4V265.9H78.4z"/><path fill="#a9cc9c" d="M187.0 111.2H193.0V118.3H187.0zM132.7 125.2H138.7V132.3H132.7zM193.0 139.3H199.1V146.4H193.0zM78.4 160.4H84.4V167.5H78.4zM42.2 181.5H48.2V188.6H42.2zM138.7 209.6H144.8V216.7H138.7zM66.3 265.8H72.3V272.9H66.3z"/><path fill="#a6cb9a" d="M187.0 118.2H193.0V125.3H187.0zM193.0 146.3H199.1V153.4H193.0zM193.0 153.4H199.1V160.4H193.0zM181.0 167.4H187.0V174.5H181.0zM96.5 244.7H102.5V251.8H96.5zM54.2 272.9H60.3V279.9H54.2zM42.2 279.9H48.2V287.0H42.2zM24.1 286.9H30.1V294.0H24.1z"/><path fill="#a4ca98" d="M187.0 160.4H193.0V167.5H187.0zM120.6 223.7H126.7V230.7H120.6zM48.2 272.9H54.2V279.9H48.2zM30.1 279.9H42.2V287.0H30.1z"/><path fill="#a2c895" d="M187.0 125.2H193.0V132.3H187.0zM187.0 153.4H193.0V160.4H187.0zM102.5 237.7H108.6V244.8H102.5zM84.4 251.8H90.4V258.9H84.4zM72.3 258.8H78.4V265.9H72.3zM60.3 265.8H66.3V272.9H60.3z"/><path fill="#a0c793" d="M181.0 160.4H187.0V167.5H181.0zM174.9 167.4H181.0V174.5H174.9zM162.9 181.5H168.9V188.6H162.9zM144.8 202.6H150.8V209.6H144.8zM42.2 272.9H48.2V279.9H42.2zM24.1 279.9H30.1V287.0H24.1z"/><path fill="#9ec691" d="M156.8 132.3H168.9V139.3H156.8zM187.0 132.3H193.0V139.3H187.0zM144.8 139.3H168.9V146.4H144.8zM144.8 146.3H168.9V153.4H144.8zM144.8 153.4H168.9V160.4H144.8zM144.8 160.4H162.9V167.5H144.8zM144.8 167.4H162.9V174.5H144.8zM144.8 174.4H162.9V181.5H144.8zM168.9 174.4H174.9V181.5H168.9zM144.8 181.5H162.9V188.6H144.8zM144.8 188.5H162.9V195.6H144.8zM150.8 195.5H156.8V202.6H150.8zM126.7 216.6H132.7V223.7H126.7zM108.6 230.7H114.6V237.8H108.6zM90.4 244.7H96.5V251.8H90.4z"/><path fill="#9cc58e" d="M168.9 132.3H174.9V139.3H168.9zM162.9 160.4H168.9V167.5H162.9zM162.9 167.4H168.9V174.5H162.9zM162.9 174.4H168.9V181.5H162.9zM144.8 195.5H150.8V202.6H144.8zM54.2 265.8H60.3V272.9H54.2z"/><path fill="#99c38c" d="M138.7 125.2H144.8V132.3H138.7zM168.9 139.3H174.9V146.4H168.9zM187.0 139.3H193.0V146.4H187.0zM187.0 146.3H193.0V153.4H187.0zM132.7 209.6H138.7V216.7H132.7zM78.4 251.8H84.4V258.9H78.4zM66.3 258.8H72.3V265.9H66.3z"/><path fill="#97c289" d="M168.9 146.3H174.9V153.4H168.9zM96.5 237.7H102.5V244.8H96.5zM36.1 272.9H42.2V279.9H36.1z"/><path fill="#95c187" d="M144.8 111.2H150.8V118.3H144.8zM150.8 132.3H156.8V139.3H150.8zM114.6 223.7H120.6V230.7H114.6z"/><path fill="#93bf85" d="M181.0 97.1H187.0V104.2H181.0zM181.0 153.4H187.0V160.4H181.0zM138.7 202.6H144.8V209.6H138.7z"/><path fill="#91be82" d="M162.9 125.2H168.9V132.3H162.9zM138.7 146.3H144.8V153.4H138.7zM138.7 153.4H144.8V160.4H138.7zM168.9 153.4H174.9V160.4H168.9zM138.7 160.4H144.8V167.5H138.7zM138.7 167.4H144.8V174.5H138.7zM168.9 167.4H174.9V174.5H168.9zM138.7 174.4H144.8V181.5H138.7zM138.7 181.5H144.8V188.6H138.7zM138.7 188.5H144.8V195.6H138.7zM48.2 265.8H54.2V272.9H48.2zM30.1 272.9H36.1V279.9H30.1z"/><path fill="#8fbd80" d="M174.9 160.4H181.0V167.5H174.9zM120.6 216.6H126.7V223.7H120.6zM102.5 230.7H108.6V237.8H102.5zM84.4 244.7H90.4V251.8H84.4zM60.3 258.8H66.3V265.9H60.3z"/><path fill="#8cbc7e" d="M168.9 125.2H174.9V132.3H168.9zM168.9 160.4H174.9V167.5H168.9zM138.7 195.5H144.8V202.6H138.7zM126.7 209.6H132.7V216.7H126.7zM72.3 251.8H78.4V258.9H72.3z"/><path fill="#8aba7b" d="M162.9 104.1H168.9V111.2H162.9zM138.7 139.3H144.8V146.4H138.7zM132.7 202.6H138.7V209.6H132.7zM108.6 223.7H114.6V230.7H108.6zM90.4 237.7H96.5V244.8H90.4zM54.2 258.8H60.3V265.9H54.2zM42.2 265.8H48.2V272.9H42.2zM24.1 272.9H30.1V279.9H24.1z"/><path fill="#88b979" d="M181.0 111.2H187.0V118.3H181.0zM174.9 132.3H187.0V139.3H174.9zM174.9 139.3H187.0V146.4H174.9zM96.5 146.3H102.5V153.4H96.5zM174.9 146.3H187.0V153.4H174.9zM174.9 153.4H181.0V160.4H174.9zM120.6 209.6H126.7V216.7H120.6zM114.6 216.6H120.6V223.7H114.6zM96.5 230.7H102.5V237.8H96.5zM84.4 237.7H90.4V244.8H84.4zM66.3 244.7H84.4V251.8H66.3zM54.2 251.8H72.3V258.9H54.2zM24.1 258.8H54.2V265.9H24.1zM24.1 265.8H42.2V272.9H24.1z"/><path fill="#86b877" d="M181.0 104.1H187.0V111.2H181.0zM138.7 118.2H144.8V125.3H138.7zM181.0 118.2H187.0V125.3H181.0zM126.7 202.6H132.7V209.6H126.7zM102.5 223.7H108.6V230.7H102.5zM78.4 237.7H84.4V244.8H78.4zM48.2 251.8H54.2V258.9H48.2z"/><path fill="#84b774" d="M181.0 125.2H187.0V132.3H181.0zM72.3 167.4H78.4V174.5H72.3zM132.7 195.5H138.7V202.6H132.7zM108.6 216.6H114.6V223.7H108.6zM60.3 244.7H66.3V251.8H60.3zM42.2 251.8H48.2V258.9H42.2z"/><path fill="#81b572" d="M144.8 132.3H150.8V139.3H144.8zM48.2 174.4H54.2V181.5H48.2zM72.3 237.7H78.4V244.8H72.3zM36.1 251.8H42.2V258.9H36.1z"/><path fill="#7fb470" d="M174.9 97.1H181.0V104.2H174.9zM156.8 125.2H162.9V132.3H156.8zM114.6 209.6H120.6V216.7H114.6zM90.4 230.7H96.5V237.8H90.4z"/><path fill="#7db36d" d="M96.5 153.4H102.5V160.4H96.5zM54.2 244.7H60.3V251.8H54.2zM30.1 251.8H36.1V258.9H30.1z"/><path fill="#7bb26b" d="M174.9 125.2H181.0V132.3H174.9zM120.6 202.6H126.7V209.6H120.6zM66.3 237.7H72.3V244.8H66.3zM24.1 251.8H30.1V258.9H24.1z"/><path fill="#78b069" d="M96.5 223.7H102.5V230.7H96.5zM84.4 230.7H90.4V237.8H84.4z"/><path fill="#76af66" d="M120.6 132.3H126.7V139.3H120.6zM96.5 160.4H102.5V167.5H96.5zM126.7 195.5H132.7V202.6H126.7zM102.5 216.6H108.6V223.7H102.5z"/><path fill="#74ae64" d="M132.7 188.5H138.7V195.6H132.7zM108.6 209.6H114.6V216.7H108.6zM78.4 230.7H84.4V237.8H78.4zM48.2 244.7H54.2V251.8H48.2z"/><path fill="#72ac62" d="M150.8 111.2H156.8V118.3H150.8zM132.7 153.4H138.7V160.4H132.7zM132.7 160.4H138.7V167.5H132.7zM132.7 167.4H138.7V174.5H132.7zM132.7 174.4H138.7V181.5H132.7zM132.7 181.5H138.7V188.6H132.7zM24.1 188.5H42.2V195.6H24.1zM114.6 202.6H120.6V209.6H114.6zM60.3 237.7H66.3V244.8H60.3zM42.2 244.7H48.2V251.8H42.2z"/><path fill="#6fab5f" d="M174.9 118.2H181.0V125.3H174.9zM132.7 146.3H138.7V153.4H132.7zM120.6 160.4H132.7V167.5H120.6zM114.6 167.4H132.7V174.5H114.6zM108.6 174.4H132.7V181.5H108.6zM102.5 181.5H132.7V188.6H102.5zM96.5 188.5H132.7V195.6H96.5zM24.1 195.5H42.2V202.6H24.1zM96.5 195.5H126.7V202.6H96.5zM24.1 202.6H42.2V209.6H24.1zM90.4 202.6H114.6V209.6H90.4zM24.1 209.6H42.2V216.7H24.1zM84.4 209.6H108.6V216.7H84.4zM24.1 216.6H48.2V223.7H24.1zM84.4 216.6H102.5V223.7H84.4zM24.1 223.7H96.5V230.7H24.1zM24.1 230.7H78.4V237.8H24.1zM24.1 237.7H60.3V244.8H24.1zM24.1 244.7H42.2V251.8H24.1z"/><path fill="#6daa5d" d="M138.7 132.3H144.8V139.3H138.7zM126.7 153.4H132.7V160.4H126.7zM90.4 195.5H96.5V202.6H90.4zM42.2 209.6H48.2V216.7H42.2zM78.4 216.6H84.4V223.7H78.4z"/><path fill="#6ba95b" d="M168.9 118.2H174.9V125.3H168.9zM144.8 125.2H150.8V132.3H144.8zM120.6 139.3H126.7V146.4H120.6zM102.5 146.3H114.6V153.4H102.5zM54.2 174.4H72.3V181.5H54.2zM102.5 174.4H108.6V181.5H102.5zM42.2 188.5H48.2V195.6H42.2z"/><path fill="#69a758" d="M114.6 146.3H120.6V153.4H114.6zM108.6 167.4H114.6V174.5H108.6zM96.5 181.5H102.5V188.6H96.5zM42.2 202.6H48.2V209.6H42.2zM84.4 202.6H90.4V209.6H84.4z"/><path fill="#66a656" d="M174.9 111.2H181.0V118.3H174.9zM150.8 125.2H156.8V132.3H150.8zM132.7 132.3H138.7V139.3H132.7zM114.6 160.4H120.6V167.5H114.6zM48.2 181.5H54.2V188.6H48.2zM42.2 195.5H48.2V202.6H42.2z"/><path fill="#64a554" d="M126.7 132.3H132.7V139.3H126.7zM120.6 153.4H126.7V160.4H120.6zM90.4 188.5H96.5V195.6H90.4zM78.4 209.6H84.4V216.7H78.4zM48.2 216.6H54.2V223.7H48.2zM72.3 216.6H78.4V223.7H72.3z"/><path fill="#62a451" d="M132.7 139.3H138.7V146.4H132.7zM126.7 146.3H132.7V153.4H126.7z"/><path fill="#5fa24f" d="M162.9 118.2H168.9V125.3H162.9zM78.4 167.4H96.5V174.5H78.4zM72.3 174.4H78.4V181.5H72.3zM96.5 174.4H102.5V181.5H96.5zM84.4 195.5H90.4V202.6H84.4zM54.2 216.6H72.3V223.7H54.2z"/><path fill="#5da14d" d="M120.6 146.3H126.7V153.4H120.6zM114.6 153.4H120.6V160.4H114.6zM108.6 160.4H114.6V167.5H108.6zM96.5 167.4H108.6V174.5H96.5zM90.4 181.5H96.5V188.6H90.4zM78.4 202.6H84.4V209.6H78.4zM48.2 209.6H54.2V216.7H48.2z"/><path fill="#5ba04a" d="M126.7 139.3H132.7V146.4H126.7zM102.5 153.4H114.6V160.4H102.5zM102.5 160.4H108.6V167.5H102.5zM78.4 174.4H96.5V181.5H78.4zM54.2 181.5H90.4V188.6H54.2zM48.2 188.5H90.4V195.6H48.2zM48.2 195.5H84.4V202.6H48.2zM48.2 202.6H78.4V209.6H48.2zM54.2 209.6H78.4V216.7H54.2z"/><path fill="#569d46" d="M156.8 111.2H162.9V118.3H156.8zM156.8 118.2H162.9V125.3H156.8z"/><path fill="#539c43" d="M168.9 104.1H174.9V111.2H168.9zM168.9 111.2H174.9V118.3H168.9z"/><path fill="#519b41" d="M144.8 118.2H150.8V125.3H144.8z"/><path fill="#4c983c" d="M174.9 104.1H181.0V111.2H174.9zM150.8 118.2H156.8V125.3H150.8z"/><path fill="#49973a" d="M162.9 111.2H168.9V118.3H162.9z"/></g><polyline points="20.0,244.5 25.0,247.4 31.4,252.2 37.7,250.5 42.9,252.6 47.1,261.0 55.5,267.3 64.0,273.6 72.4,278.9 79.7,281.0 85.0,286.2 82.9,292.6 85.0,303.0 82.9,311.5 76.6,319.9 74.5,326.2 75.5,335.6 72.4,340.9 66.0,346.2 55.5,344.1 45.0,343.0 34.5,339.9 20.0,333.0" fill="none" stroke="#b3b3b3" stroke-width="1.3"/><circle cx="153.4" cy="308.1" r="3.2" fill="#481769"/><circle cx="154.9" cy="311.0" r="3.2" fill="#481467"/><circle cx="156.3" cy="314.0" r="3.2" fill="#471365"/><circle cx="157.8" cy="316.9" r="3.2" fill="#471063"/><circle cx="159.3" cy="319.9" r="3.2" fill="#470e61"/><circle cx="160.8" cy="322.8" r="3.2" fill="#470d60"/><circle cx="162.2" cy="325.8" r="3.2" fill="#460a5d"/><circle cx="163.7" cy="328.7" r="3.2" fill="#46085c"/><circle cx="165.4" cy="331.6" r="3.2" fill="#471365"/><circle cx="167.1" cy="334.5" r="3.2" fill="#481d6f"/><circle cx="168.8" cy="337.4" r="3.2" fill="#482878"/><circle cx="170.6" cy="340.2" r="3.2" fill="#46307e"/><circle cx="172.3" cy="343.1" r="3.2" fill="#443a83"/><circle cx="174.0" cy="346.0" r="3.2" fill="#414487"/><circle cx="175.5" cy="348.9" r="3.2" fill="#3e4c8a"/><circle cx="177.0" cy="351.9" r="3.2" fill="#3a538b"/><circle cx="178.5" cy="354.8" r="3.2" fill="#365c8d"/><circle cx="179.9" cy="357.7" r="3.2" fill="#33638d"/><circle cx="181.4" cy="360.6" r="3.2" fill="#306a8e"/><circle cx="182.9" cy="363.6" r="3.2" fill="#2c718e"/><circle cx="184.4" cy="366.5" r="3.2" fill="#2a788e"/><circle cx="186.1" cy="369.1" r="3.2" fill="#2d718e"/><circle cx="187.8" cy="371.6" r="3.2" fill="#31688e"/><circle cx="189.5" cy="374.2" r="3.2" fill="#34608d"/><circle cx="191.2" cy="376.8" r="3.2" fill="#38588c"/><circle cx="192.9" cy="379.7" r="3.2" fill="#3b528b"/><circle cx="194.6" cy="382.5" r="3.2" fill="#3e4c8a"/><circle cx="196.3" cy="385.4" r="3.2" fill="#404688"/><circle cx="198.1" cy="388.3" r="3.2" fill="#424086"/><circle cx="199.8" cy="391.1" r="3.2" fill="#443a83"/><circle cx="201.5" cy="394.0" r="3.2" fill="#463480"/><circle cx="202.7" cy="396.9" r="3.2" fill="#46337f"/><circle cx="203.8" cy="399.7" r="3.2" fill="#46307e"/><circle cx="204.9" cy="402.6" r="3.2" fill="#472f7d"/><circle cx="206.1" cy="405.5" r="3.2" fill="#472e7c"/><circle cx="207.2" cy="408.3" r="3.2" fill="#472d7b"/><circle cx="208.4" cy="411.2" r="3.2" fill="#472a7a"/><circle cx="209.6" cy="414.1" r="3.2" fill="#482677"/><circle cx="210.7" cy="416.9" r="3.2" fill="#482173"/><circle cx="211.9" cy="419.8" r="3.2" fill="#481d6f"/><circle cx="213.0" cy="422.7" r="3.2" fill="#481a6c"/><circle cx="214.2" cy="425.5" r="3.2" fill="#481467"/><circle cx="215.3" cy="428.4" r="3.2" fill="#471063"/><circle cx="216.0" cy="432.0" r="3.2" fill="#471063"/><circle cx="113.8" cy="244.2" r="3.2" fill="#481d6f"/><circle cx="111.7" cy="241.6" r="3.2" fill="#481a6c"/><circle cx="109.5" cy="239.1" r="3.2" fill="#481769"/><circle cx="107.3" cy="236.5" r="3.2" fill="#471365"/><circle cx="105.2" cy="233.9" r="3.2" fill="#471063"/><circle cx="103.1" cy="231.1" r="3.2" fill="#470e61"/><circle cx="101.1" cy="228.4" r="3.2" fill="#470d60"/><circle cx="99.0" cy="225.6" r="3.2" fill="#460b5e"/><circle cx="97.0" cy="222.9" r="3.2" fill="#460a5d"/><circle cx="94.9" cy="220.1" r="3.2" fill="#46085c"/><circle cx="92.3" cy="216.6" r="3.2" fill="#46085c"/><circle cx="89.8" cy="213.2" r="3.2" fill="#46085c"/><circle cx="88.9" cy="209.8" r="3.2" fill="#46085c"/><circle cx="88.1" cy="206.3" r="3.2" fill="#46085c"/><circle cx="87.2" cy="202.9" r="3.2" fill="#46085c"/><circle cx="86.5" cy="199.9" r="3.2" fill="#46085c"/><circle cx="85.9" cy="196.9" r="3.2" fill="#460a5d"/><circle cx="85.2" cy="193.9" r="3.2" fill="#460b5e"/><circle cx="84.6" cy="190.9" r="3.2" fill="#460b5e"/><circle cx="83.2" cy="187.5" r="3.2" fill="#481769"/><circle cx="81.7" cy="184.0" r="3.2" fill="#482173"/><circle cx="80.3" cy="180.6" r="3.2" fill="#472a7a"/><circle cx="78.2" cy="177.1" r="3.2" fill="#463480"/><circle cx="76.0" cy="173.7" r="3.2" fill="#433e85"/><circle cx="73.8" cy="171.1" r="3.2" fill="#3f4889"/><circle cx="71.7" cy="168.6" r="3.2" fill="#3b528b"/><circle cx="74.7" cy="170.3" r="3.2" fill="#3e4a89"/><circle cx="77.7" cy="172.0" r="3.2" fill="#414487"/><circle cx="80.6" cy="174.0" r="3.2" fill="#414487"/><circle cx="83.4" cy="176.0" r="3.2" fill="#414487"/><circle cx="86.3" cy="178.0" r="3.2" fill="#414487"/><circle cx="88.7" cy="179.9" r="3.2" fill="#424186"/><circle cx="91.1" cy="181.8" r="3.2" fill="#424086"/><circle cx="93.6" cy="183.7" r="3.2" fill="#433e85"/><circle cx="96.0" cy="185.6" r="3.2" fill="#433d84"/><circle cx="98.4" cy="187.5" r="3.2" fill="#443a83"/><circle cx="101.0" cy="189.7" r="3.2" fill="#414487"/><circle cx="103.6" cy="191.8" r="3.2" fill="#3d4e8a"/><circle cx="106.1" cy="193.9" r="3.2" fill="#39568c"/><circle cx="108.7" cy="196.1" r="3.2" fill="#355f8d"/><circle cx="111.1" cy="198.3" r="3.2" fill="#2e6f8e"/><circle cx="113.5" cy="200.5" r="3.2" fill="#287d8e"/><circle cx="116.2" cy="202.6" r="3.2" fill="#24868e"/><circle cx="119.0" cy="204.7" r="3.2" fill="#21918c"/><circle cx="124.0" cy="208.0" r="3.2" fill="#2c738e"/><circle cx="126.7" cy="209.8" r="3.2" fill="#2d708e"/><circle cx="129.3" cy="211.5" r="3.2" fill="#2f6c8e"/><circle cx="132.2" cy="213.8" r="3.2" fill="#287c8e"/><circle cx="135.0" cy="216.1" r="3.2" fill="#228c8d"/><circle cx="137.9" cy="218.4" r="3.2" fill="#1e9c89"/><circle cx="140.5" cy="220.1" r="3.2" fill="#228c8d"/><circle cx="143.0" cy="221.9" r="3.2" fill="#287c8e"/><circle cx="145.6" cy="223.6" r="3.2" fill="#2f6c8e"/><circle cx="146.0" cy="219.3" r="3.2" fill="#2b748e"/><circle cx="146.4" cy="215.0" r="3.2" fill="#287d8e"/><circle cx="145.7" cy="211.9" r="3.2" fill="#287c8e"/><circle cx="145.0" cy="208.8" r="3.2" fill="#297b8e"/><circle cx="144.3" cy="205.6" r="3.2" fill="#297a8e"/><circle cx="143.6" cy="202.5" r="3.2" fill="#29798e"/><circle cx="142.9" cy="199.4" r="3.2" fill="#2a788e"/><circle cx="142.2" cy="196.1" r="3.2" fill="#2a768e"/><circle cx="141.4" cy="192.7" r="3.2" fill="#2b748e"/><circle cx="140.7" cy="189.3" r="3.2" fill="#2c728e"/><circle cx="140.0" cy="186.0" r="3.2" fill="#2d718e"/><circle cx="139.7" cy="182.8" r="3.2" fill="#2a778e"/><circle cx="139.4" cy="179.6" r="3.2" fill="#277e8e"/><circle cx="139.1" cy="176.4" r="3.2" fill="#25848e"/><circle cx="138.1" cy="173.5" r="3.2" fill="#22a884"/><circle cx="137.2" cy="170.7" r="3.2" fill="#5ec962"/><circle cx="136.2" cy="167.8" r="3.2" fill="#bddf26"/><circle cx="135.8" cy="164.5" r="3.2" fill="#44bf70"/><circle cx="135.3" cy="161.2" r="3.2" fill="#21918c"/><circle cx="134.8" cy="157.3" r="3.2" fill="#25848e"/><circle cx="134.3" cy="153.5" r="3.2" fill="#2a788e"/><circle cx="133.9" cy="149.7" r="3.2" fill="#31668e"/><circle cx="133.4" cy="145.9" r="3.2" fill="#3b528b"/><circle cx="132.8" cy="142.1" r="3.2" fill="#3f4889"/><circle cx="132.1" cy="138.2" r="3.2" fill="#433e85"/><circle cx="131.5" cy="134.4" r="3.2" fill="#463480"/><circle cx="131.5" cy="130.6" r="3.2" fill="#472d7b"/><circle cx="131.5" cy="126.7" r="3.2" fill="#482576"/><circle cx="131.5" cy="122.9" r="3.2" fill="#481d6f"/><circle cx="134.0" cy="125.5" r="3.2" fill="#482173"/><circle cx="136.6" cy="128.0" r="3.2" fill="#482677"/><circle cx="139.1" cy="130.6" r="3.2" fill="#472a7a"/><circle cx="140.1" cy="133.4" r="3.2" fill="#46307e"/><circle cx="141.0" cy="136.3" r="3.2" fill="#453781"/><circle cx="141.9" cy="139.2" r="3.2" fill="#433e85"/><circle cx="142.9" cy="142.0" r="3.2" fill="#414487"/><circle cx="144.2" cy="145.2" r="3.2" fill="#3b528b"/><circle cx="145.5" cy="148.4" r="3.2" fill="#34618d"/><circle cx="146.8" cy="151.6" r="3.2" fill="#2e6f8e"/><circle cx="148.2" cy="154.4" r="3.2" fill="#1f9e89"/><circle cx="149.6" cy="157.3" r="3.2" fill="#5ec962"/><circle cx="152.5" cy="162.1" r="3.2" fill="#ffff00"/><circle cx="154.4" cy="165.9" r="3.2" fill="#cae11f"/><circle cx="155.9" cy="169.2" r="3.2" fill="#3dbc74"/><circle cx="157.3" cy="172.6" r="3.2" fill="#25848e"/><circle cx="158.7" cy="175.4" r="3.2" fill="#277e8e"/><circle cx="160.1" cy="178.3" r="3.2" fill="#2a788e"/><circle cx="162.1" cy="181.2" r="3.2" fill="#2d708e"/><circle cx="164.0" cy="184.1" r="3.2" fill="#31678e"/><circle cx="166.3" cy="187.9" r="3.2" fill="#287c8e"/><circle cx="168.7" cy="191.7" r="3.2" fill="#21918c"/><circle cx="170.6" cy="195.5" r="3.2" fill="#26ad81"/><circle cx="169.5" cy="190.0" r="3.2" fill="#22a884"/><circle cx="169.2" cy="186.4" r="3.2" fill="#20928c"/><circle cx="169.0" cy="182.9" r="3.2" fill="#297b8e"/><circle cx="168.7" cy="179.3" r="3.2" fill="#32648e"/><circle cx="168.2" cy="175.0" r="3.2" fill="#2d718e"/><circle cx="167.8" cy="170.7" r="3.2" fill="#287d8e"/><circle cx="166.8" cy="165.0" r="3.2" fill="#5ec962"/><circle cx="166.4" cy="161.2" r="3.2" fill="#cde11d"/><circle cx="165.9" cy="157.3" r="3.2" fill="#ffff00"/><circle cx="165.6" cy="154.1" r="3.2" fill="#ffff00"/><circle cx="165.2" cy="151.0" r="3.2" fill="#ffff00"/><circle cx="164.9" cy="147.8" r="3.2" fill="#ffff00"/><circle cx="163.9" cy="142.0" r="3.2" fill="#86d549"/><circle cx="163.4" cy="138.2" r="3.2" fill="#5ec962"/><circle cx="163.0" cy="134.4" r="3.2" fill="#3bbb75"/><circle cx="162.1" cy="130.6" r="3.2" fill="#1f9a8a"/><circle cx="161.1" cy="126.8" r="3.2" fill="#2a788e"/><circle cx="160.6" cy="122.9" r="3.2" fill="#31688e"/><circle cx="160.1" cy="119.1" r="3.2" fill="#38588c"/><circle cx="159.8" cy="115.9" r="3.2" fill="#3e4989"/><circle cx="159.5" cy="112.8" r="3.2" fill="#443a83"/><circle cx="159.2" cy="109.6" r="3.2" fill="#472a7a"/><circle cx="158.2" cy="106.7" r="3.2" fill="#472e7c"/><circle cx="160.8" cy="108.3" r="3.2" fill="#453581"/><circle cx="163.3" cy="109.9" r="3.2" fill="#433d84"/><circle cx="165.9" cy="111.5" r="3.2" fill="#414487"/><circle cx="168.2" cy="114.4" r="3.2" fill="#3b528b"/><circle cx="170.5" cy="117.3" r="3.2" fill="#355f8d"/><circle cx="172.9" cy="121.0" r="3.2" fill="#2a788e"/><circle cx="175.4" cy="124.8" r="3.2" fill="#21918c"/><circle cx="177.2" cy="127.4" r="3.2" fill="#44bf70"/><circle cx="178.9" cy="130.0" r="3.2" fill="#bddf26"/><circle cx="180.3" cy="132.8" r="3.2" fill="#eae51a"/><circle cx="181.7" cy="135.6" r="3.2" fill="#ffff00"/><circle cx="183.1" cy="138.4" r="3.2" fill="#ffff00"/><circle cx="186.0" cy="143.5" r="3.2" fill="#ffff00"/><circle cx="187.7" cy="146.2" r="3.2" fill="#e5e419"/><circle cx="189.4" cy="148.9" r="3.2" fill="#86d549"/><circle cx="190.4" cy="152.4" r="3.2" fill="#5ec962"/><circle cx="191.5" cy="156.0" r="3.2" fill="#3bbb75"/><circle cx="192.6" cy="159.8" r="3.2" fill="#2fb47c"/><circle cx="193.6" cy="163.6" r="3.2" fill="#26ad81"/><circle cx="194.6" cy="167.8" r="3.2" fill="#1f9f88"/><circle cx="195.7" cy="172.0" r="3.2" fill="#21918c"/><circle cx="196.8" cy="176.2" r="3.2" fill="#25848e"/><circle cx="197.8" cy="180.4" r="3.2" fill="#2a788e"/><circle cx="198.5" cy="183.6" r="3.2" fill="#2d718e"/><circle cx="199.2" cy="186.7" r="3.2" fill="#31688e"/><circle cx="199.8" cy="189.8" r="3.2" fill="#34608d"/><circle cx="200.5" cy="193.0" r="3.2" fill="#38588c"/><circle cx="216.0" cy="493.0" r="3.2" fill="#46085c"/><circle cx="216.0" cy="490.0" r="3.2" fill="#46085c"/><circle cx="216.0" cy="487.0" r="3.2" fill="#46085c"/><circle cx="216.0" cy="484.0" r="3.2" fill="#460a5d"/><circle cx="216.0" cy="481.0" r="3.2" fill="#460a5d"/><circle cx="216.0" cy="478.0" r="3.2" fill="#460b5e"/><circle cx="216.0" cy="475.0" r="3.2" fill="#460b5e"/><circle cx="216.0" cy="472.0" r="3.2" fill="#460b5e"/><circle cx="216.0" cy="469.0" r="3.2" fill="#470d60"/><circle cx="216.0" cy="466.0" r="3.2" fill="#470d60"/><circle cx="216.0" cy="463.0" r="3.2" fill="#470d60"/><circle cx="216.0" cy="460.0" r="3.2" fill="#470e61"/><circle cx="216.0" cy="457.0" r="3.2" fill="#470e61"/><circle cx="216.0" cy="454.0" r="3.2" fill="#471063"/><circle cx="216.0" cy="451.0" r="3.2" fill="#471063"/><circle cx="216.0" cy="448.0" r="3.2" fill="#471063"/><circle cx="216.0" cy="445.0" r="3.2" fill="#471164"/><circle cx="216.0" cy="442.0" r="3.2" fill="#471164"/><circle cx="216.0" cy="439.0" r="3.2" fill="#471365"/><circle cx="216.0" cy="436.0" r="3.2" fill="#471365"/><circle cx="216.0" cy="433.0" r="3.2" fill="#471365"/><circle cx="216.0" cy="429.8" r="3.2" fill="#481a6c"/><circle cx="216.0" cy="426.5" r="3.2" fill="#481f70"/><circle cx="216.0" cy="423.2" r="3.2" fill="#482576"/><circle cx="216.0" cy="420.0" r="3.2" fill="#472a7a"/><circle cx="216.0" cy="417.0" r="3.2" fill="#472f7d"/><circle cx="216.0" cy="414.0" r="3.2" fill="#463480"/><circle cx="216.0" cy="411.0" r="3.2" fill="#443a83"/><circle cx="216.0" cy="408.0" r="3.2" fill="#423f85"/><circle cx="216.0" cy="405.0" r="3.2" fill="#414487"/><circle cx="216.0" cy="402.0" r="3.2" fill="#3f4788"/><circle cx="216.0" cy="399.0" r="3.2" fill="#3e4c8a"/><circle cx="216.0" cy="396.0" r="3.2" fill="#3c4f8a"/><circle cx="216.0" cy="393.0" r="3.2" fill="#3a538b"/><circle cx="216.0" cy="390.0" r="3.2" fill="#38588c"/><circle cx="216.0" cy="387.0" r="3.2" fill="#375a8c"/><circle cx="216.0" cy="384.0" r="3.2" fill="#375b8d"/><circle cx="216.0" cy="381.0" r="3.2" fill="#365d8d"/><circle cx="216.0" cy="378.0" r="3.2" fill="#355f8d"/><circle cx="216.0" cy="374.0" r="3.2" fill="#306a8e"/><circle cx="216.0" cy="370.0" r="3.2" fill="#2c738e"/><circle cx="216.0" cy="366.7" r="3.2" fill="#2e6f8e"/><circle cx="216.0" cy="363.3" r="3.2" fill="#306a8e"/><circle cx="216.0" cy="360.0" r="3.2" fill="#32648e"/><circle cx="216.0" cy="357.0" r="3.2" fill="#33638d"/><circle cx="216.0" cy="354.0" r="3.2" fill="#33628d"/><circle cx="216.0" cy="351.0" r="3.2" fill="#34618d"/><circle cx="216.0" cy="348.0" r="3.2" fill="#355f8d"/><circle cx="216.0" cy="344.7" r="3.2" fill="#306a8e"/><circle cx="216.0" cy="341.3" r="3.2" fill="#2c738e"/><circle cx="216.0" cy="338.0" r="3.2" fill="#287d8e"/><circle cx="216.0" cy="334.7" r="3.2" fill="#2c738e"/><circle cx="216.0" cy="331.3" r="3.2" fill="#306a8e"/><circle cx="216.0" cy="328.0" r="3.2" fill="#355f8d"/><circle cx="216.0" cy="324.7" r="3.2" fill="#355e8d"/><circle cx="216.0" cy="321.3" r="3.2" fill="#365c8d"/><circle cx="216.0" cy="318.0" r="3.2" fill="#375a8c"/><circle cx="216.0" cy="314.7" r="3.2" fill="#30698e"/><circle cx="216.0" cy="311.3" r="3.2" fill="#2a768e"/><circle cx="216.0" cy="308.0" r="3.2" fill="#25848e"/><circle cx="216.0" cy="304.7" r="3.2" fill="#287c8e"/><circle cx="216.0" cy="301.3" r="3.2" fill="#2b748e"/><circle cx="216.0" cy="298.0" r="3.2" fill="#2f6c8e"/><circle cx="216.0" cy="294.8" r="3.2" fill="#30698e"/><circle cx="216.0" cy="291.5" r="3.2" fill="#31668e"/><circle cx="216.0" cy="288.2" r="3.2" fill="#33638d"/><circle cx="216.0" cy="285.0" r="3.2" fill="#355f8d"/><circle cx="216.0" cy="281.7" r="3.2" fill="#31688e"/><circle cx="216.0" cy="278.3" r="3.2" fill="#2d708e"/><circle cx="216.0" cy="275.0" r="3.2" fill="#2a788e"/><circle cx="216.0" cy="271.8" r="3.2" fill="#277e8e"/><circle cx="216.0" cy="268.5" r="3.2" fill="#25848e"/><circle cx="216.0" cy="265.2" r="3.2" fill="#238a8d"/><circle cx="216.0" cy="262.0" r="3.2" fill="#21918c"/><circle cx="216.0" cy="258.0" r="3.2" fill="#38588c"/><circle cx="216.0" cy="254.0" r="3.2" fill="#375b8d"/><circle cx="216.0" cy="250.0" r="3.2" fill="#355f8d"/><circle cx="216.0" cy="246.7" r="3.2" fill="#31688e"/><circle cx="216.0" cy="243.3" r="3.2" fill="#2d708e"/><circle cx="216.0" cy="240.0" r="3.2" fill="#2a788e"/><circle cx="216.0" cy="236.0" r="3.2" fill="#2d708e"/><circle cx="216.0" cy="232.0" r="3.2" fill="#31678e"/><circle cx="216.0" cy="229.0" r="3.2" fill="#31678e"/><circle cx="216.0" cy="226.0" r="3.2" fill="#31678e"/><circle cx="216.0" cy="223.0" r="3.2" fill="#31678e"/><circle cx="216.0" cy="220.0" r="3.2" fill="#31678e"/><circle cx="216.0" cy="215.0" r="3.2" fill="#21918c"/><circle cx="216.0" cy="212.0" r="3.2" fill="#21918c"/><circle cx="216.0" cy="209.0" r="3.2" fill="#21918c"/><circle cx="216.0" cy="206.0" r="3.2" fill="#21918c"/><circle cx="216.0" cy="203.0" r="3.2" fill="#21918c"/><circle cx="216.0" cy="198.0" r="3.2" fill="#2a788e"/><circle cx="216.2" cy="195.0" r="3.2" fill="#2a788e"/><circle cx="216.3" cy="192.0" r="3.2" fill="#2a788e"/><circle cx="216.5" cy="189.0" r="3.2" fill="#2a788e"/><circle cx="216.6" cy="186.0" r="3.2" fill="#2a788e"/><circle cx="216.8" cy="183.0" r="3.2" fill="#2a788e"/><circle cx="215.4" cy="180.0" r="3.2" fill="#2c728e"/><circle cx="213.9" cy="177.0" r="3.2" fill="#2e6d8e"/><circle cx="212.5" cy="174.0" r="3.2" fill="#31678e"/><circle cx="210.4" cy="171.2" r="3.2" fill="#306a8e"/><circle cx="208.3" cy="168.5" r="3.2" fill="#2e6e8e"/><circle cx="206.2" cy="165.7" r="3.2" fill="#2d718e"/><circle cx="204.1" cy="162.6" r="3.2" fill="#2b748e"/><circle cx="202.0" cy="159.4" r="3.2" fill="#2a788e"/><circle cx="199.9" cy="156.6" r="3.2" fill="#27808e"/><circle cx="197.8" cy="153.8" r="3.2" fill="#23888e"/><circle cx="195.7" cy="151.0" r="3.2" fill="#21918c"/><circle cx="191.5" cy="146.8" r="3.2" fill="#9bd93c"/><circle cx="188.3" cy="143.7" r="3.2" fill="#efe51c"/><circle cx="185.2" cy="140.5" r="3.2" fill="#ffff00"/><circle cx="183.5" cy="137.0" r="3.2" fill="#ffff00"/><circle cx="181.7" cy="133.5" r="3.2" fill="#ffff00"/><circle cx="180.0" cy="130.0" r="3.2" fill="#ffff00"/><circle cx="178.9" cy="125.8" r="3.2" fill="#fde725"/><circle cx="177.9" cy="121.5" r="3.2" fill="#bddf26"/><circle cx="177.9" cy="117.3" r="3.2" fill="#5ec962"/><circle cx="178.9" cy="113.1" r="3.2" fill="#21918c"/><circle cx="180.2" cy="110.0" r="3.2" fill="#25848e"/><circle cx="181.5" cy="107.0" r="3.2" fill="#2a788e"/><circle cx="183.5" cy="104.0" r="3.2" fill="#2b758e"/><circle cx="185.4" cy="101.0" r="3.2" fill="#2c738e"/><circle cx="187.4" cy="98.0" r="3.2" fill="#2d718e"/><circle cx="189.7" cy="95.7" r="3.2" fill="#2e6f8e"/><circle cx="192.1" cy="93.3" r="3.2" fill="#2f6c8e"/><circle cx="194.4" cy="91.0" r="3.2" fill="#306a8e"/><circle cx="196.7" cy="88.7" r="3.2" fill="#31678e"/><circle cx="199.8" cy="86.3" r="3.2" fill="#306a8e"/><circle cx="202.9" cy="83.8" r="3.2" fill="#2e6e8e"/><circle cx="206.0" cy="81.4" r="3.2" fill="#2d718e"/><circle cx="209.1" cy="79.2" r="3.2" fill="#2e6e8e"/><circle cx="212.3" cy="76.9" r="3.2" fill="#306a8e"/><circle cx="215.4" cy="74.7" r="3.2" fill="#31678e"/><circle cx="218.5" cy="72.7" r="3.2" fill="#33638d"/><circle cx="221.6" cy="70.7" r="3.2" fill="#355e8d"/><circle cx="224.7" cy="68.7" r="3.2" fill="#375a8c"/><circle cx="228.1" cy="68.1" r="3.2" fill="#365d8d"/><circle cx="231.4" cy="67.4" r="3.2" fill="#355f8d"/><circle cx="234.7" cy="66.4" r="3.2" fill="#277e8e"/><circle cx="238.0" cy="65.4" r="3.2" fill="#1e9c89"/><circle cx="242.0" cy="67.4" r="3.2" fill="#3bbb75"/><circle cx="244.7" cy="69.4" r="3.2" fill="#52c569"/><circle cx="247.4" cy="71.4" r="3.2" fill="#6ece58"/><circle cx="250.1" cy="73.4" r="3.2" fill="#ffff00"/><circle cx="253.3" cy="75.6" r="3.2" fill="#fde725"/><circle cx="256.5" cy="77.7" r="3.2" fill="#fde725"/><circle cx="259.8" cy="80.6" r="3.2" fill="#ffff00"/><circle cx="263.0" cy="83.4" r="3.2" fill="#ffff00"/><circle cx="266.2" cy="85.5" r="3.2" fill="#cde11d"/><circle cx="269.5" cy="87.5" r="3.2" fill="#5ec962"/><circle cx="272.8" cy="89.5" r="3.2" fill="#38b977"/><circle cx="276.0" cy="91.5" r="3.2" fill="#22a884"/><circle cx="278.7" cy="93.7" r="3.2" fill="#1f958b"/><circle cx="281.3" cy="95.8" r="3.2" fill="#25838e"/><circle cx="284.0" cy="98.0" r="3.2" fill="#2d718e"/><circle cx="288.9" cy="100.4" r="3.2" fill="#21918c"/><circle cx="292.5" cy="99.6" r="3.2" fill="#44bf70"/><circle cx="293.0" cy="94.7" r="3.2" fill="#5ec962"/><circle cx="290.6" cy="89.9" r="3.2" fill="#6ece58"/><circle cx="289.2" cy="86.6" r="3.2" fill="#73d056"/><circle cx="287.9" cy="83.4" r="3.2" fill="#77d153"/><circle cx="286.5" cy="80.1" r="3.2" fill="#7ad151"/><circle cx="284.0" cy="75.3" r="3.2" fill="#ffff00"/><circle cx="282.4" cy="70.4" r="3.2" fill="#ffff00"/><circle cx="280.8" cy="67.2" r="3.2" fill="#ffff00"/><circle cx="279.2" cy="63.9" r="3.2" fill="#ffff00"/><circle cx="277.6" cy="60.6" r="3.2" fill="#ffff00"/><circle cx="276.0" cy="57.4" r="3.2" fill="#ffff00"/><circle cx="274.8" cy="54.2" r="3.2" fill="#e5e419"/><circle cx="273.5" cy="51.0" r="3.2" fill="#86d549"/><circle cx="271.9" cy="46.1" r="3.2" fill="#44bf70"/><circle cx="270.6" cy="43.3" r="3.2" fill="#22a884"/><circle cx="269.3" cy="40.5" r="3.2" fill="#21918c"/><circle cx="268.5" cy="34.8" r="3.2" fill="#2f6c8e"/><circle cx="271.4" cy="36.0" r="3.2" fill="#2a788e"/><circle cx="274.3" cy="37.2" r="3.2" fill="#25848e"/><circle cx="279.2" cy="40.4" r="3.2" fill="#44bf70"/><circle cx="283.3" cy="42.8" r="3.2" fill="#a2da37"/><circle cx="287.3" cy="45.3" r="3.2" fill="#ffff00"/><circle cx="289.6" cy="47.3" r="3.2" fill="#ffff00"/><circle cx="291.9" cy="49.2" r="3.2" fill="#ffff00"/><circle cx="294.2" cy="51.2" r="3.2" fill="#ffff00"/><circle cx="296.6" cy="53.2" r="3.2" fill="#ffff00"/><circle cx="298.9" cy="55.2" r="3.2" fill="#ffff00"/><circle cx="301.2" cy="57.1" r="3.2" fill="#ffff00"/><circle cx="303.5" cy="59.1" r="3.2" fill="#ffff00"/><circle cx="306.0" cy="59.9" r="3.2" fill="#bddf26"/><circle cx="310.0" cy="63.1" r="3.2" fill="#5ec962"/><circle cx="313.2" cy="65.2" r="3.2" fill="#4cc26c"/><circle cx="316.5" cy="67.2" r="3.2" fill="#3bbb75"/><circle cx="318.9" cy="69.6" r="3.2" fill="#21a685"/><circle cx="321.4" cy="72.0" r="3.2" fill="#21918c"/><circle cx="322.6" cy="75.2" r="3.2" fill="#21918c"/><circle cx="323.8" cy="78.5" r="3.2" fill="#21918c"/><circle cx="323.5" cy="82.3" r="3.2" fill="#228c8d"/><circle cx="323.3" cy="86.1" r="3.2" fill="#23888e"/><circle cx="323.0" cy="89.9" r="3.2" fill="#25848e"/><circle cx="322.7" cy="93.1" r="3.2" fill="#26828e"/><circle cx="322.5" cy="96.4" r="3.2" fill="#27808e"/><circle cx="322.2" cy="99.6" r="3.2" fill="#287d8e"/><path d="M217.5 112.8L213.4 119.8L221.6 119.8Z" fill="none" stroke="#000" stroke-width="1.15" stroke-linejoin="miter"/><path d="M239.4 104.0L235.3 111.0L243.5 111.0Z" fill="none" stroke="#000" stroke-width="1.15" stroke-linejoin="miter"/><path d="M235.7 110.6L231.6 117.6L239.8 117.6Z" fill="none" stroke="#000" stroke-width="1.15" stroke-linejoin="miter"/><path d="M148.1 391.2L144.0 398.2L152.2 398.2Z" fill="none" stroke="#000" stroke-width="1.15" stroke-linejoin="miter"/></g><g clip-path="url(#cb)"><g filter="url(#fb)"><polygon points="356.0,150.0 568.0,150.0 572.0,520.0 356.0,520.0" fill="#eae4f2"/><polygon points="356.0,182.0 370.0,178.0 400.0,150.0 431.0,128.0 461.0,108.0 498.0,88.0 523.0,76.0 555.0,63.0 586.0,42.0 611.0,28.0 632.0,24.0 653.0,32.0 672.0,53.0 684.0,81.0 681.0,108.0 653.0,129.0 626.0,138.0 601.0,150.0 571.0,166.0 546.0,187.0 521.0,217.0 496.0,240.0 466.0,252.0 436.0,254.0 406.0,252.0 356.0,250.0" fill="#b5a1d3"/><polygon points="356.0,245.0 476.0,245.0 451.0,285.0 406.0,292.0 356.0,295.0" fill="#c8b9de"/><polygon points="356.0,290.0 446.0,285.0 456.0,300.0 436.0,330.0 356.0,335.0" fill="#d9cee8"/><polygon points="441.0,300.0 531.0,240.0 541.0,250.0 456.0,312.0" fill="#e5def0"/><polygon points="486.0,248.0 511.0,212.0 546.0,188.0 554.0,200.0 516.0,238.0 491.0,258.0" fill="#ccbee1"/><polygon points="540.0,95.0 576.0,80.0 601.0,88.0 616.0,110.0 601.0,140.0 571.0,150.0 546.0,150.0 536.0,120.0" fill="#c6b6dd"/><ellipse cx="586.0" cy="130.0" rx="14.0" ry="8.0" fill="#bfaed9"/><polygon points="646.0,70.0 668.0,68.0 669.0,100.0 646.0,100.0" fill="#9980c2"/><polygon points="437.0,136.0 471.0,136.0 471.0,158.0 437.0,158.0" fill="#9980c2"/><polygon points="446.0,205.0 481.0,205.0 481.0,240.0 446.0,240.0" fill="#9980c2"/><polygon points="386.0,178.0 431.0,178.0 431.0,225.0 386.0,225.0" fill="#9b83c4"/><polygon points="580.0,40.0 626.0,40.0 626.0,70.0 580.0,70.0" fill="#9d85c5"/><polyline points="558.0,230.0 521.0,280.0 481.0,325.0 446.0,355.0" fill="none" stroke="#bfaed9" stroke-width="26.0" stroke-linecap="round" stroke-linejoin="round"/><polyline points="514.0,262.0 518.0,300.0 524.0,340.0 532.0,380.0 528.0,420.0 526.0,470.0 531.0,500.0" fill="none" stroke="#bfaed9" stroke-width="24.0" stroke-linecap="round" stroke-linejoin="round"/><polygon points="521.0,300.0 560.0,300.0 560.0,432.0 551.0,430.0 536.0,380.0" fill="#c3b4dc"/><polygon points="520.0,250.0 560.0,250.0 560.0,315.0 520.0,315.0" fill="#c6b6dd"/><polygon points="496.0,185.0 560.0,185.0 560.0,215.0 516.0,215.0" fill="#ccbee1"/><polyline points="386.0,405.0 470.0,330.0" fill="none" stroke="#e5def0" stroke-width="18.0" stroke-linecap="round" stroke-linejoin="round"/><polygon points="356.0,345.0 386.0,345.0 391.0,520.0 356.0,520.0" fill="#f6f4fa"/><polyline points="386.0,475.0 506.0,390.0" fill="none" stroke="#e5def0" stroke-width="22.0" stroke-linecap="round" stroke-linejoin="round"/><polygon points="461.0,330.0 496.0,320.0 496.0,400.0 466.0,400.0" fill="#d9cee8"/><ellipse cx="542.0" cy="496.0" rx="16.0" ry="10.0" fill="#aa95cd"/><ellipse cx="491.0" cy="492.0" rx="45.0" ry="13.0" fill="#d0c3e3"/></g><polyline points="366.0,244.5 371.0,247.4 377.4,252.2 383.7,250.5 388.9,252.6 393.1,261.0 401.5,267.3 410.0,273.6 418.4,278.9 425.7,281.0 431.0,286.2 428.9,292.6 431.0,303.0 428.9,311.5 422.6,319.9 420.5,326.2 421.5,335.6 418.4,340.9 412.0,346.2 401.5,344.1 391.0,343.0 380.5,339.9 366.0,333.0" fill="none" stroke="#b3b3b3" stroke-width="1.3"/><circle cx="499.4" cy="308.1" r="3.2" fill="#414487"/><circle cx="500.9" cy="311.0" r="3.2" fill="#433d84"/><circle cx="502.3" cy="314.0" r="3.2" fill="#453581"/><circle cx="503.8" cy="316.9" r="3.2" fill="#472e7c"/><circle cx="505.3" cy="319.9" r="3.2" fill="#482677"/><circle cx="506.8" cy="322.8" r="3.2" fill="#481f70"/><circle cx="508.2" cy="325.8" r="3.2" fill="#48186a"/><circle cx="509.7" cy="328.7" r="3.2" fill="#471063"/><circle cx="511.4" cy="331.6" r="3.2" fill="#481d6f"/><circle cx="513.1" cy="334.5" r="3.2" fill="#482979"/><circle cx="514.9" cy="337.4" r="3.2" fill="#453581"/><circle cx="516.6" cy="340.2" r="3.2" fill="#424186"/><circle cx="518.3" cy="343.1" r="3.2" fill="#3d4d8a"/><circle cx="520.0" cy="346.0" r="3.2" fill="#38588c"/><circle cx="521.5" cy="348.9" r="3.2" fill="#365c8d"/><circle cx="523.0" cy="351.9" r="3.2" fill="#34618d"/><circle cx="524.5" cy="354.8" r="3.2" fill="#31668e"/><circle cx="525.9" cy="357.7" r="3.2" fill="#2f6b8e"/><circle cx="527.4" cy="360.6" r="3.2" fill="#2e6f8e"/><circle cx="528.9" cy="363.6" r="3.2" fill="#2c738e"/><circle cx="530.4" cy="366.5" r="3.2" fill="#2a788e"/><circle cx="532.1" cy="369.1" r="3.2" fill="#2c728e"/><circle cx="533.8" cy="371.6" r="3.2" fill="#2f6c8e"/><circle cx="535.5" cy="374.2" r="3.2" fill="#31668e"/><circle cx="537.2" cy="376.8" r="3.2" fill="#355f8d"/><circle cx="538.8" cy="379.6" r="3.2" fill="#38598c"/><circle cx="540.3" cy="382.3" r="3.2" fill="#3b528b"/><circle cx="541.9" cy="385.1" r="3.2" fill="#3e4a89"/><circle cx="543.4" cy="387.8" r="3.2" fill="#414487"/><circle cx="545.5" cy="390.9" r="3.2" fill="#414487"/><circle cx="547.5" cy="394.0" r="3.2" fill="#414487"/><circle cx="548.6" cy="396.9" r="3.2" fill="#424186"/><circle cx="549.8" cy="399.7" r="3.2" fill="#424086"/><circle cx="551.0" cy="402.6" r="3.2" fill="#423f85"/><circle cx="552.1" cy="405.5" r="3.2" fill="#433e85"/><circle cx="553.2" cy="408.3" r="3.2" fill="#443b84"/><circle cx="554.4" cy="411.2" r="3.2" fill="#443a83"/><circle cx="555.5" cy="414.1" r="3.2" fill="#453882"/><circle cx="556.7" cy="416.9" r="3.2" fill="#453581"/><circle cx="557.9" cy="419.8" r="3.2" fill="#46337f"/><circle cx="559.0" cy="422.7" r="3.2" fill="#472f7d"/><circle cx="560.1" cy="425.5" r="3.2" fill="#472d7b"/><circle cx="561.3" cy="428.4" r="3.2" fill="#472a7a"/><circle cx="562.0" cy="432.0" r="3.2" fill="#482475"/><circle cx="459.8" cy="244.2" r="3.2" fill="#460b5e"/><circle cx="457.8" cy="241.8" r="3.2" fill="#470d60"/><circle cx="455.8" cy="239.4" r="3.2" fill="#470d60"/><circle cx="453.8" cy="237.0" r="3.2" fill="#470d60"/><circle cx="451.8" cy="234.6" r="3.2" fill="#470e61"/><circle cx="449.8" cy="232.2" r="3.2" fill="#470e61"/><circle cx="447.8" cy="229.8" r="3.2" fill="#471063"/><circle cx="445.7" cy="227.3" r="3.2" fill="#48186a"/><circle cx="443.6" cy="224.8" r="3.2" fill="#482173"/><circle cx="441.5" cy="222.2" r="3.2" fill="#472a7a"/><circle cx="439.4" cy="219.7" r="3.2" fill="#46327e"/><circle cx="437.3" cy="217.2" r="3.2" fill="#443a83"/><circle cx="436.2" cy="214.0" r="3.2" fill="#472e7c"/><circle cx="435.2" cy="210.9" r="3.2" fill="#482374"/><circle cx="434.1" cy="207.8" r="3.2" fill="#481668"/><circle cx="433.1" cy="204.6" r="3.2" fill="#46085c"/><circle cx="432.1" cy="201.4" r="3.2" fill="#46085c"/><circle cx="431.0" cy="198.3" r="3.2" fill="#460a5d"/><circle cx="429.9" cy="195.2" r="3.2" fill="#460b5e"/><circle cx="428.9" cy="192.0" r="3.2" fill="#460b5e"/><circle cx="427.5" cy="188.5" r="3.2" fill="#482071"/><circle cx="426.1" cy="185.0" r="3.2" fill="#46327e"/><circle cx="424.7" cy="181.5" r="3.2" fill="#414487"/><circle cx="422.9" cy="178.3" r="3.2" fill="#3b528b"/><circle cx="421.2" cy="175.1" r="3.2" fill="#355f8d"/><circle cx="419.4" cy="171.8" r="3.2" fill="#2f6c8e"/><circle cx="417.7" cy="168.6" r="3.2" fill="#2a788e"/><circle cx="420.7" cy="170.8" r="3.2" fill="#2e6e8e"/><circle cx="423.8" cy="173.0" r="3.2" fill="#33638d"/><circle cx="426.8" cy="175.2" r="3.2" fill="#38588c"/><circle cx="429.4" cy="177.3" r="3.2" fill="#3b528b"/><circle cx="432.1" cy="179.4" r="3.2" fill="#3d4e8a"/><circle cx="434.7" cy="181.5" r="3.2" fill="#3f4889"/><circle cx="437.3" cy="183.6" r="3.2" fill="#414487"/><circle cx="439.9" cy="185.7" r="3.2" fill="#3f4889"/><circle cx="442.6" cy="187.8" r="3.2" fill="#3d4e8a"/><circle cx="445.2" cy="189.9" r="3.2" fill="#3b528b"/><circle cx="447.8" cy="192.0" r="3.2" fill="#38588c"/><circle cx="450.6" cy="194.1" r="3.2" fill="#33638d"/><circle cx="453.4" cy="196.2" r="3.2" fill="#2e6e8e"/><circle cx="456.2" cy="198.3" r="3.2" fill="#2a788e"/><circle cx="459.0" cy="200.4" r="3.2" fill="#21918c"/><circle cx="461.8" cy="202.5" r="3.2" fill="#22a884"/><circle cx="464.6" cy="204.6" r="3.2" fill="#44bf70"/><circle cx="467.4" cy="206.7" r="3.2" fill="#25ac82"/><circle cx="470.2" cy="208.9" r="3.2" fill="#1f988b"/><circle cx="473.0" cy="211.0" r="3.2" fill="#25848e"/><circle cx="475.8" cy="213.1" r="3.2" fill="#23888e"/><circle cx="478.6" cy="215.1" r="3.2" fill="#228c8d"/><circle cx="481.4" cy="217.2" r="3.2" fill="#21918c"/><circle cx="483.9" cy="218.8" r="3.2" fill="#24868e"/><circle cx="486.5" cy="220.4" r="3.2" fill="#287c8e"/><circle cx="489.1" cy="222.0" r="3.2" fill="#2c718e"/><circle cx="491.6" cy="223.6" r="3.2" fill="#31678e"/><circle cx="491.7" cy="220.1" r="3.2" fill="#287d8e"/><circle cx="491.8" cy="216.5" r="3.2" fill="#20928c"/><circle cx="491.9" cy="213.0" r="3.2" fill="#22a884"/><circle cx="491.0" cy="209.3" r="3.2" fill="#22a884"/><circle cx="490.0" cy="205.7" r="3.2" fill="#22a884"/><circle cx="489.1" cy="202.0" r="3.2" fill="#22a884"/><circle cx="488.5" cy="199.1" r="3.2" fill="#1f9f88"/><circle cx="487.8" cy="196.1" r="3.2" fill="#1f958b"/><circle cx="487.2" cy="193.2" r="3.2" fill="#228b8d"/><circle cx="486.5" cy="190.2" r="3.2" fill="#26828e"/><circle cx="485.9" cy="187.3" r="3.2" fill="#2a788e"/><circle cx="485.1" cy="184.2" r="3.2" fill="#2c738e"/><circle cx="484.4" cy="181.0" r="3.2" fill="#2d708e"/><circle cx="483.6" cy="177.8" r="3.2" fill="#2f6b8e"/><circle cx="482.8" cy="174.7" r="3.2" fill="#31678e"/><circle cx="482.2" cy="171.1" r="3.2" fill="#22a785"/><circle cx="481.7" cy="167.4" r="3.2" fill="#a2da37"/><circle cx="481.4" cy="164.2" r="3.2" fill="#6ece58"/><circle cx="481.0" cy="161.1" r="3.2" fill="#44bf70"/><circle cx="480.7" cy="157.9" r="3.2" fill="#26ad81"/><circle cx="480.1" cy="153.7" r="3.2" fill="#1f988b"/><circle cx="479.6" cy="149.5" r="3.2" fill="#25848e"/><circle cx="479.1" cy="146.4" r="3.2" fill="#29798e"/><circle cx="478.6" cy="143.2" r="3.2" fill="#2e6f8e"/><circle cx="478.0" cy="140.1" r="3.2" fill="#33638d"/><circle cx="477.5" cy="137.0" r="3.2" fill="#38588c"/><circle cx="477.2" cy="133.8" r="3.2" fill="#3c508b"/><circle cx="477.0" cy="130.7" r="3.2" fill="#3e4989"/><circle cx="476.8" cy="127.6" r="3.2" fill="#424186"/><circle cx="476.5" cy="124.4" r="3.2" fill="#443a83"/><circle cx="477.5" cy="122.9" r="3.2" fill="#443a83"/><circle cx="480.0" cy="125.5" r="3.2" fill="#433e85"/><circle cx="482.4" cy="128.1" r="3.2" fill="#424086"/><circle cx="484.9" cy="130.7" r="3.2" fill="#414487"/><circle cx="486.3" cy="134.2" r="3.2" fill="#39568c"/><circle cx="487.7" cy="137.6" r="3.2" fill="#31688e"/><circle cx="489.1" cy="141.1" r="3.2" fill="#2a788e"/><circle cx="490.5" cy="144.6" r="3.2" fill="#21918c"/><circle cx="491.9" cy="148.1" r="3.2" fill="#22a884"/><circle cx="493.3" cy="151.6" r="3.2" fill="#44bf70"/><circle cx="495.4" cy="154.8" r="3.2" fill="#63cb5f"/><circle cx="497.5" cy="157.9" r="3.2" fill="#86d549"/><circle cx="499.6" cy="163.2" r="3.2" fill="#ffff00"/><circle cx="501.1" cy="165.8" r="3.2" fill="#cde11d"/><circle cx="502.7" cy="168.4" r="3.2" fill="#5ec962"/><circle cx="504.1" cy="171.2" r="3.2" fill="#2ab07f"/><circle cx="505.5" cy="174.0" r="3.2" fill="#1f948c"/><circle cx="506.9" cy="176.8" r="3.2" fill="#2a788e"/><circle cx="508.3" cy="179.6" r="3.2" fill="#2c728e"/><circle cx="509.7" cy="182.4" r="3.2" fill="#2e6d8e"/><circle cx="511.1" cy="185.2" r="3.2" fill="#31678e"/><circle cx="512.7" cy="189.4" r="3.2" fill="#23888e"/><circle cx="514.3" cy="193.6" r="3.2" fill="#22a884"/><circle cx="516.6" cy="195.5" r="3.2" fill="#44bf70"/><circle cx="516.5" cy="192.4" r="3.2" fill="#50c46a"/><circle cx="516.3" cy="189.4" r="3.2" fill="#5ec962"/><circle cx="516.0" cy="185.9" r="3.2" fill="#2ab07f"/><circle cx="515.6" cy="182.4" r="3.2" fill="#1f948c"/><circle cx="515.3" cy="178.9" r="3.2" fill="#2a788e"/><circle cx="514.8" cy="175.2" r="3.2" fill="#20928c"/><circle cx="514.2" cy="171.6" r="3.2" fill="#26ad81"/><circle cx="513.7" cy="167.9" r="3.2" fill="#48c16e"/><circle cx="513.2" cy="164.2" r="3.2" fill="#7ad151"/><circle cx="512.6" cy="161.1" r="3.2" fill="#dfe318"/><circle cx="512.1" cy="157.9" r="3.2" fill="#ffff00"/><circle cx="511.9" cy="154.8" r="3.2" fill="#ffff00"/><circle cx="511.6" cy="151.6" r="3.2" fill="#ffff00"/><circle cx="511.4" cy="148.5" r="3.2" fill="#ffff00"/><circle cx="511.1" cy="145.3" r="3.2" fill="#ffff00"/><circle cx="510.6" cy="141.2" r="3.2" fill="#cde11d"/><circle cx="510.0" cy="137.0" r="3.2" fill="#5ec962"/><circle cx="509.5" cy="133.8" r="3.2" fill="#4cc26c"/><circle cx="509.0" cy="130.7" r="3.2" fill="#3bbb75"/><circle cx="508.5" cy="126.5" r="3.2" fill="#1f9a8a"/><circle cx="508.0" cy="122.3" r="3.2" fill="#2a788e"/><circle cx="507.3" cy="118.8" r="3.2" fill="#2e6e8e"/><circle cx="506.6" cy="115.3" r="3.2" fill="#33638d"/><circle cx="505.9" cy="111.8" r="3.2" fill="#38588c"/><circle cx="504.2" cy="106.7" r="3.2" fill="#414487"/><circle cx="506.8" cy="109.1" r="3.2" fill="#3d4d8a"/><circle cx="509.5" cy="111.5" r="3.2" fill="#39568c"/><circle cx="512.1" cy="113.9" r="3.2" fill="#355f8d"/><circle cx="514.2" cy="116.7" r="3.2" fill="#33628d"/><circle cx="516.3" cy="119.5" r="3.2" fill="#32648e"/><circle cx="518.4" cy="122.3" r="3.2" fill="#31678e"/><circle cx="521.0" cy="125.4" r="3.2" fill="#1fa088"/><circle cx="523.7" cy="128.6" r="3.2" fill="#7ad151"/><circle cx="525.2" cy="131.8" r="3.2" fill="#dfe318"/><circle cx="526.8" cy="134.9" r="3.2" fill="#ffff00"/><circle cx="527.9" cy="138.0" r="3.2" fill="#ffff00"/><circle cx="528.9" cy="141.1" r="3.2" fill="#ffff00"/><circle cx="530.5" cy="145.3" r="3.2" fill="#ffff00"/><circle cx="532.1" cy="149.5" r="3.2" fill="#ffff00"/><circle cx="533.1" cy="152.7" r="3.2" fill="#cde11d"/><circle cx="534.2" cy="155.8" r="3.2" fill="#5ec962"/><circle cx="535.2" cy="160.0" r="3.2" fill="#3dbc74"/><circle cx="536.3" cy="164.2" r="3.2" fill="#26ad81"/><circle cx="537.3" cy="167.7" r="3.2" fill="#20a386"/><circle cx="538.4" cy="171.2" r="3.2" fill="#1f9a8a"/><circle cx="539.4" cy="174.7" r="3.2" fill="#21918c"/><circle cx="541.0" cy="178.9" r="3.2" fill="#238a8d"/><circle cx="542.6" cy="183.1" r="3.2" fill="#25848e"/><circle cx="543.9" cy="186.4" r="3.2" fill="#297a8e"/><circle cx="545.2" cy="189.7" r="3.2" fill="#2d718e"/><circle cx="546.5" cy="193.0" r="3.2" fill="#31678e"/><circle cx="562.0" cy="493.0" r="3.2" fill="#46085c"/><circle cx="562.0" cy="489.9" r="3.2" fill="#46085c"/><circle cx="562.0" cy="486.9" r="3.2" fill="#46085c"/><circle cx="562.0" cy="483.9" r="3.2" fill="#46085c"/><circle cx="562.0" cy="480.8" r="3.2" fill="#46085c"/><circle cx="562.0" cy="477.8" r="3.2" fill="#46085c"/><circle cx="562.0" cy="474.7" r="3.2" fill="#46085c"/><circle cx="562.0" cy="471.6" r="3.2" fill="#460a5d"/><circle cx="562.0" cy="468.6" r="3.2" fill="#460a5d"/><circle cx="562.0" cy="465.6" r="3.2" fill="#460a5d"/><circle cx="562.0" cy="462.5" r="3.2" fill="#460a5d"/><circle cx="562.0" cy="459.4" r="3.2" fill="#460a5d"/><circle cx="562.0" cy="456.4" r="3.2" fill="#460a5d"/><circle cx="562.0" cy="453.4" r="3.2" fill="#460a5d"/><circle cx="562.0" cy="450.3" r="3.2" fill="#460a5d"/><circle cx="562.0" cy="447.2" r="3.2" fill="#460b5e"/><circle cx="562.0" cy="444.2" r="3.2" fill="#460b5e"/><circle cx="562.0" cy="441.1" r="3.2" fill="#460b5e"/><circle cx="562.0" cy="438.1" r="3.2" fill="#460b5e"/><circle cx="562.0" cy="435.1" r="3.2" fill="#460b5e"/><circle cx="562.0" cy="432.0" r="3.2" fill="#460b5e"/><circle cx="562.0" cy="428.5" r="3.2" fill="#48186a"/><circle cx="562.0" cy="425.0" r="3.2" fill="#482475"/><circle cx="562.0" cy="421.9" r="3.2" fill="#482677"/><circle cx="562.0" cy="418.8" r="3.2" fill="#472a7a"/><circle cx="562.0" cy="415.6" r="3.2" fill="#472d7b"/><circle cx="562.0" cy="412.5" r="3.2" fill="#472f7d"/><circle cx="562.0" cy="409.4" r="3.2" fill="#46327e"/><circle cx="562.0" cy="406.2" r="3.2" fill="#453581"/><circle cx="562.0" cy="403.1" r="3.2" fill="#453882"/><circle cx="562.0" cy="400.0" r="3.2" fill="#443a83"/><circle cx="562.0" cy="397.0" r="3.2" fill="#424086"/><circle cx="562.0" cy="394.0" r="3.2" fill="#404688"/><circle cx="562.0" cy="391.0" r="3.2" fill="#3e4c8a"/><circle cx="562.0" cy="388.0" r="3.2" fill="#3b528b"/><circle cx="562.0" cy="385.0" r="3.2" fill="#38588c"/><circle cx="562.0" cy="381.7" r="3.2" fill="#38598c"/><circle cx="562.0" cy="378.3" r="3.2" fill="#375a8c"/><circle cx="562.0" cy="375.0" r="3.2" fill="#375b8d"/><circle cx="562.0" cy="371.7" r="3.2" fill="#365d8d"/><circle cx="562.0" cy="368.3" r="3.2" fill="#355e8d"/><circle cx="562.0" cy="365.0" r="3.2" fill="#355f8d"/><circle cx="562.0" cy="360.0" r="3.2" fill="#21918c"/><circle cx="562.0" cy="356.7" r="3.2" fill="#21918c"/><circle cx="562.0" cy="353.3" r="3.2" fill="#21918c"/><circle cx="562.0" cy="350.0" r="3.2" fill="#21918c"/><circle cx="562.0" cy="345.0" r="3.2" fill="#2a788e"/><circle cx="562.0" cy="342.0" r="3.2" fill="#2a788e"/><circle cx="562.0" cy="339.0" r="3.2" fill="#2a788e"/><circle cx="562.0" cy="336.0" r="3.2" fill="#2a788e"/><circle cx="562.0" cy="333.0" r="3.2" fill="#2a788e"/><circle cx="562.0" cy="330.0" r="3.2" fill="#2a788e"/><circle cx="562.0" cy="327.0" r="3.2" fill="#2a788e"/><circle cx="562.0" cy="324.0" r="3.2" fill="#2a788e"/><circle cx="562.0" cy="321.0" r="3.2" fill="#2a788e"/><circle cx="562.0" cy="318.0" r="3.2" fill="#2a788e"/><circle cx="562.0" cy="315.0" r="3.2" fill="#2a788e"/><circle cx="562.0" cy="312.0" r="3.2" fill="#2a788e"/><circle cx="562.0" cy="309.0" r="3.2" fill="#2a788e"/><circle cx="562.0" cy="306.0" r="3.2" fill="#2a788e"/><circle cx="562.0" cy="303.0" r="3.2" fill="#2a788e"/><circle cx="562.0" cy="300.0" r="3.2" fill="#2a788e"/><circle cx="562.0" cy="296.7" r="3.2" fill="#2b748e"/><circle cx="562.0" cy="293.3" r="3.2" fill="#2d708e"/><circle cx="562.0" cy="290.0" r="3.2" fill="#2f6c8e"/><circle cx="562.0" cy="286.7" r="3.2" fill="#2d708e"/><circle cx="562.0" cy="283.3" r="3.2" fill="#2b748e"/><circle cx="562.0" cy="280.0" r="3.2" fill="#2a788e"/><circle cx="562.0" cy="276.7" r="3.2" fill="#287c8e"/><circle cx="562.0" cy="273.3" r="3.2" fill="#27808e"/><circle cx="562.0" cy="270.0" r="3.2" fill="#25848e"/><circle cx="562.0" cy="266.0" r="3.2" fill="#238a8d"/><circle cx="562.0" cy="262.0" r="3.2" fill="#21918c"/><circle cx="562.0" cy="259.0" r="3.2" fill="#21918c"/><circle cx="562.0" cy="256.0" r="3.2" fill="#21918c"/><circle cx="562.0" cy="253.0" r="3.2" fill="#21918c"/><circle cx="562.0" cy="250.0" r="3.2" fill="#21918c"/><circle cx="562.0" cy="245.0" r="3.2" fill="#2f6c8e"/><circle cx="562.0" cy="241.7" r="3.2" fill="#2d708e"/><circle cx="562.0" cy="238.3" r="3.2" fill="#2b748e"/><circle cx="562.0" cy="235.0" r="3.2" fill="#2a788e"/><circle cx="562.0" cy="231.7" r="3.2" fill="#2a788e"/><circle cx="562.0" cy="228.3" r="3.2" fill="#2a788e"/><circle cx="562.0" cy="225.0" r="3.2" fill="#2a788e"/><circle cx="562.0" cy="221.7" r="3.2" fill="#2a788e"/><circle cx="562.0" cy="218.3" r="3.2" fill="#2a788e"/><circle cx="562.0" cy="215.0" r="3.2" fill="#2a788e"/><circle cx="562.0" cy="210.0" r="3.2" fill="#21918c"/><circle cx="562.0" cy="206.7" r="3.2" fill="#238a8d"/><circle cx="562.0" cy="203.3" r="3.2" fill="#25838e"/><circle cx="562.0" cy="200.0" r="3.2" fill="#287d8e"/><circle cx="562.2" cy="196.6" r="3.2" fill="#287d8e"/><circle cx="562.3" cy="193.2" r="3.2" fill="#287d8e"/><circle cx="562.5" cy="189.8" r="3.2" fill="#287d8e"/><circle cx="562.6" cy="186.4" r="3.2" fill="#287d8e"/><circle cx="562.8" cy="183.0" r="3.2" fill="#287d8e"/><circle cx="561.4" cy="180.0" r="3.2" fill="#297b8e"/><circle cx="559.9" cy="177.0" r="3.2" fill="#297a8e"/><circle cx="558.5" cy="174.0" r="3.2" fill="#2a788e"/><circle cx="556.4" cy="171.2" r="3.2" fill="#2a788e"/><circle cx="554.3" cy="168.5" r="3.2" fill="#2a788e"/><circle cx="552.2" cy="165.7" r="3.2" fill="#2a788e"/><circle cx="550.1" cy="162.6" r="3.2" fill="#25848e"/><circle cx="548.0" cy="159.4" r="3.2" fill="#21918c"/><circle cx="545.9" cy="156.6" r="3.2" fill="#25ac82"/><circle cx="543.8" cy="153.8" r="3.2" fill="#54c568"/><circle cx="541.7" cy="151.0" r="3.2" fill="#9bd93c"/><circle cx="537.5" cy="146.8" r="3.2" fill="#fde725"/><circle cx="534.4" cy="143.7" r="3.2" fill="#ffff00"/><circle cx="531.2" cy="140.5" r="3.2" fill="#ffff00"/><circle cx="529.5" cy="137.0" r="3.2" fill="#ffff00"/><circle cx="527.7" cy="133.5" r="3.2" fill="#ffff00"/><circle cx="526.0" cy="130.0" r="3.2" fill="#ffff00"/><circle cx="525.0" cy="125.8" r="3.2" fill="#dfe318"/><circle cx="523.9" cy="121.5" r="3.2" fill="#7ad151"/><circle cx="523.9" cy="117.3" r="3.2" fill="#22a884"/><circle cx="524.9" cy="113.1" r="3.2" fill="#25848e"/><circle cx="526.2" cy="110.0" r="3.2" fill="#277e8e"/><circle cx="527.5" cy="107.0" r="3.2" fill="#2a788e"/><circle cx="529.5" cy="104.0" r="3.2" fill="#287c8e"/><circle cx="531.4" cy="101.0" r="3.2" fill="#27808e"/><circle cx="533.4" cy="98.0" r="3.2" fill="#25848e"/><circle cx="535.7" cy="95.7" r="3.2" fill="#27808e"/><circle cx="538.0" cy="93.3" r="3.2" fill="#297a8e"/><circle cx="540.4" cy="91.0" r="3.2" fill="#2b758e"/><circle cx="542.7" cy="88.7" r="3.2" fill="#2d718e"/><circle cx="545.8" cy="86.3" r="3.2" fill="#2c738e"/><circle cx="548.9" cy="83.8" r="3.2" fill="#2b758e"/><circle cx="552.0" cy="81.4" r="3.2" fill="#2a788e"/><circle cx="555.1" cy="79.2" r="3.2" fill="#2b758e"/><circle cx="558.3" cy="76.9" r="3.2" fill="#2c738e"/><circle cx="561.4" cy="74.7" r="3.2" fill="#2d718e"/><circle cx="564.5" cy="72.7" r="3.2" fill="#2e6e8e"/><circle cx="567.6" cy="70.7" r="3.2" fill="#306a8e"/><circle cx="570.7" cy="68.7" r="3.2" fill="#31678e"/><circle cx="574.0" cy="68.1" r="3.2" fill="#31678e"/><circle cx="577.4" cy="67.4" r="3.2" fill="#31678e"/><circle cx="580.7" cy="66.4" r="3.2" fill="#287c8e"/><circle cx="584.0" cy="65.4" r="3.2" fill="#21918c"/><circle cx="587.0" cy="66.8" r="3.2" fill="#28ae80"/><circle cx="590.0" cy="68.2" r="3.2" fill="#5ec962"/><circle cx="592.4" cy="70.1" r="3.2" fill="#a5db36"/><circle cx="594.7" cy="72.1" r="3.2" fill="#f4e61e"/><circle cx="597.1" cy="74.0" r="3.2" fill="#ffff00"/><circle cx="600.6" cy="76.3" r="3.2" fill="#fde725"/><circle cx="604.1" cy="78.7" r="3.2" fill="#fde725"/><circle cx="607.6" cy="81.1" r="3.2" fill="#ffff00"/><circle cx="611.1" cy="83.4" r="3.2" fill="#ffff00"/><circle cx="614.6" cy="85.8" r="3.2" fill="#dfe318"/><circle cx="618.1" cy="88.1" r="3.2" fill="#7ad151"/><circle cx="620.4" cy="90.0" r="3.2" fill="#63cb5f"/><circle cx="622.8" cy="92.0" r="3.2" fill="#4ec36b"/><circle cx="625.1" cy="93.9" r="3.2" fill="#3bbb75"/><circle cx="627.4" cy="96.1" r="3.2" fill="#21a585"/><circle cx="629.8" cy="98.2" r="3.2" fill="#218f8d"/><circle cx="632.1" cy="100.4" r="3.2" fill="#2a788e"/><circle cx="637.5" cy="100.5" r="3.2" fill="#22a884"/><circle cx="638.5" cy="95.1" r="3.2" fill="#5ec962"/><circle cx="637.5" cy="92.0" r="3.2" fill="#63cb5f"/><circle cx="636.5" cy="88.8" r="3.2" fill="#69cd5b"/><circle cx="635.5" cy="85.7" r="3.2" fill="#6ece58"/><circle cx="634.2" cy="82.6" r="3.2" fill="#b2dd2d"/><circle cx="632.8" cy="79.5" r="3.2" fill="#fbe723"/><circle cx="631.5" cy="76.4" r="3.2" fill="#ffff00"/><circle cx="630.2" cy="73.1" r="3.2" fill="#ffff00"/><circle cx="628.9" cy="69.8" r="3.2" fill="#ffff00"/><circle cx="627.7" cy="66.6" r="3.2" fill="#ffff00"/><circle cx="626.4" cy="63.3" r="3.2" fill="#ffff00"/><circle cx="625.1" cy="60.0" r="3.2" fill="#ffff00"/><circle cx="623.5" cy="56.9" r="3.2" fill="#ffff00"/><circle cx="622.0" cy="53.8" r="3.2" fill="#eae51a"/><circle cx="620.4" cy="50.7" r="3.2" fill="#bddf26"/><circle cx="618.6" cy="47.2" r="3.2" fill="#8bd646"/><circle cx="616.9" cy="43.7" r="3.2" fill="#5ec962"/><circle cx="616.1" cy="40.7" r="3.2" fill="#2ab07f"/><circle cx="615.3" cy="37.8" r="3.2" fill="#1f948c"/><circle cx="614.5" cy="34.8" r="3.2" fill="#2a788e"/><circle cx="617.4" cy="36.0" r="3.2" fill="#1e9c89"/><circle cx="620.3" cy="37.2" r="3.2" fill="#44bf70"/><circle cx="623.5" cy="39.0" r="3.2" fill="#90d743"/><circle cx="626.6" cy="40.7" r="3.2" fill="#eae51a"/><circle cx="629.8" cy="42.5" r="3.2" fill="#ffff00"/><circle cx="632.4" cy="44.4" r="3.2" fill="#ffff00"/><circle cx="635.0" cy="46.3" r="3.2" fill="#ffff00"/><circle cx="637.7" cy="48.2" r="3.2" fill="#ffff00"/><circle cx="640.3" cy="50.1" r="3.2" fill="#ffff00"/><circle cx="642.9" cy="52.0" r="3.2" fill="#ffff00"/><circle cx="645.5" cy="53.9" r="3.2" fill="#ffff00"/><circle cx="648.2" cy="55.8" r="3.2" fill="#ffff00"/><circle cx="650.8" cy="57.7" r="3.2" fill="#ffff00"/><circle cx="653.1" cy="60.0" r="3.2" fill="#dfe318"/><circle cx="655.5" cy="62.4" r="3.2" fill="#7ad151"/><circle cx="657.8" cy="64.3" r="3.2" fill="#70cf57"/><circle cx="660.2" cy="66.3" r="3.2" fill="#67cc5c"/><circle cx="662.5" cy="68.2" r="3.2" fill="#5ec962"/><circle cx="665.0" cy="70.1" r="3.2" fill="#4cc26c"/><circle cx="667.4" cy="72.0" r="3.2" fill="#3bbb75"/><circle cx="668.6" cy="75.2" r="3.2" fill="#21a685"/><circle cx="669.8" cy="78.5" r="3.2" fill="#21918c"/><circle cx="669.5" cy="82.3" r="3.2" fill="#21918c"/><circle cx="669.3" cy="86.1" r="3.2" fill="#21918c"/><circle cx="669.0" cy="89.9" r="3.2" fill="#21918c"/><circle cx="668.7" cy="93.1" r="3.2" fill="#21918c"/><circle cx="668.5" cy="96.4" r="3.2" fill="#21918c"/><circle cx="668.2" cy="99.6" r="3.2" fill="#21918c"/><path d="M563.5 112.8L559.4 119.8L567.6 119.8Z" fill="none" stroke="#000" stroke-width="1.15" stroke-linejoin="miter"/><path d="M585.4 104.0L581.3 111.0L589.5 111.0Z" fill="none" stroke="#000" stroke-width="1.15" stroke-linejoin="miter"/><path d="M581.7 110.6L577.6 117.6L585.8 117.6Z" fill="none" stroke="#000" stroke-width="1.15" stroke-linejoin="miter"/><path d="M494.1 391.2L490.0 398.2L498.2 398.2Z" fill="none" stroke="#000" stroke-width="1.15" stroke-linejoin="miter"/></g><rect x="24.5" y="5.5" width="314" height="506.8" fill="none" stroke="#333" stroke-width="1.07"/><rect x="370.5" y="5.5" width="314" height="506.8" fill="none" stroke="#333" stroke-width="1.07"/><line x1="21.8" y1="132.3" x2="24.5" y2="132.3" stroke="#333" stroke-width="1.07"/><text x="20.4" y="135.7" text-anchor="end" fill="#4d4d4d" font-size="9.7">55.5</text><line x1="21.8" y1="258.8" x2="24.5" y2="258.8" stroke="#333" stroke-width="1.07"/><text x="20.4" y="262.2" text-anchor="end" fill="#4d4d4d" font-size="9.7">55.2</text><line x1="21.8" y1="385.3" x2="24.5" y2="385.3" stroke="#333" stroke-width="1.07"/><text x="20.4" y="388.7" text-anchor="end" fill="#4d4d4d" font-size="9.7">54.9</text><line x1="21.8" y1="511.8" x2="24.5" y2="511.8" stroke="#333" stroke-width="1.07"/><text x="20.4" y="515.2" text-anchor="end" fill="#4d4d4d" font-size="9.7">54.6</text><line x1="49.0" y1="512.3" x2="49.0" y2="515" stroke="#333" stroke-width="1.07"/><text x="49.0" y="523.6" text-anchor="middle" fill="#4d4d4d" font-size="9.7">15.0</text><line x1="121.4" y1="512.3" x2="121.4" y2="515" stroke="#333" stroke-width="1.07"/><text x="121.4" y="523.6" text-anchor="middle" fill="#4d4d4d" font-size="9.7">15.3</text><line x1="193.8" y1="512.3" x2="193.8" y2="515" stroke="#333" stroke-width="1.07"/><text x="193.8" y="523.6" text-anchor="middle" fill="#4d4d4d" font-size="9.7">15.6</text><line x1="266.2" y1="512.3" x2="266.2" y2="515" stroke="#333" stroke-width="1.07"/><text x="266.2" y="523.6" text-anchor="middle" fill="#4d4d4d" font-size="9.7">15.9</text><line x1="367.8" y1="132.3" x2="370.5" y2="132.3" stroke="#333" stroke-width="1.07"/><text x="366.4" y="135.7" text-anchor="end" fill="#4d4d4d" font-size="9.7">55.5</text><line x1="367.8" y1="258.8" x2="370.5" y2="258.8" stroke="#333" stroke-width="1.07"/><text x="366.4" y="262.2" text-anchor="end" fill="#4d4d4d" font-size="9.7">55.2</text><line x1="367.8" y1="385.3" x2="370.5" y2="385.3" stroke="#333" stroke-width="1.07"/><text x="366.4" y="388.7" text-anchor="end" fill="#4d4d4d" font-size="9.7">54.9</text><line x1="367.8" y1="511.8" x2="370.5" y2="511.8" stroke="#333" stroke-width="1.07"/><text x="366.4" y="515.2" text-anchor="end" fill="#4d4d4d" font-size="9.7">54.6</text><line x1="395.0" y1="512.3" x2="395.0" y2="515" stroke="#333" stroke-width="1.07"/><text x="395.0" y="523.6" text-anchor="middle" fill="#4d4d4d" font-size="9.7">15.0</text><line x1="467.4" y1="512.3" x2="467.4" y2="515" stroke="#333" stroke-width="1.07"/><text x="467.4" y="523.6" text-anchor="middle" fill="#4d4d4d" font-size="9.7">15.3</text><line x1="539.8" y1="512.3" x2="539.8" y2="515" stroke="#333" stroke-width="1.07"/><text x="539.8" y="523.6" text-anchor="middle" fill="#4d4d4d" font-size="9.7">15.6</text><line x1="612.2" y1="512.3" x2="612.2" y2="515" stroke="#333" stroke-width="1.07"/><text x="612.2" y="523.6" text-anchor="middle" fill="#4d4d4d" font-size="9.7">15.9</text><text x="0.6" y="6.9" font-size="9.6" font-weight="bold" fill="#000">a</text><text x="346.6" y="6.9" font-size="9.6" font-weight="bold" fill="#000">b</text><line x1="72.4" y1="90.1" x2="123.8" y2="51.8" stroke="#000" stroke-width="1.5"/><polyline points="114.1,52.8 124.3,51.3 120.2,60.6" fill="none" stroke="#000" stroke-width="1.5" stroke-linejoin="miter"/><text x="0" y="0" font-size="9.8" fill="#000" text-anchor="middle" transform="translate(94.7,65.1) rotate(-36.6)">Wind</text><defs><linearGradient id="g273" x1="0" y1="0" x2="0" y2="1"><stop offset="0.00" stop-color="#008000"/><stop offset="0.05" stop-color="#218616"/><stop offset="0.10" stop-color="#338d25"/><stop offset="0.15" stop-color="#419332"/><stop offset="0.20" stop-color="#4e993f"/><stop offset="0.25" stop-color="#5ba04a"/><stop offset="0.30" stop-color="#66a656"/><stop offset="0.35" stop-color="#72ac62"/><stop offset="0.40" stop-color="#7db36d"/><stop offset="0.45" stop-color="#88b979"/><stop offset="0.50" stop-color="#93bf85"/><stop offset="0.55" stop-color="#9ec691"/><stop offset="0.60" stop-color="#a9cc9c"/><stop offset="0.65" stop-color="#b3d2a8"/><stop offset="0.70" stop-color="#bed9b4"/><stop offset="0.75" stop-color="#c9dfc1"/><stop offset="0.80" stop-color="#d4e6cd"/><stop offset="0.85" stop-color="#dfecd9"/><stop offset="0.90" stop-color="#e9f2e6"/><stop offset="0.95" stop-color="#f4f9f2"/><stop offset="1.00" stop-color="#ffffff"/></linearGradient></defs><rect x="273.9" y="289.5" width="23" height="116.8" fill="url(#g273)"/><line x1="273.9" y1="289.5" x2="278.5" y2="289.5" stroke="#fff" stroke-width="0.6"/><line x1="292.3" y1="289.5" x2="296.9" y2="289.5" stroke="#fff" stroke-width="0.6"/><text x="302.8" y="292.7" fill="#000" font-size="8.9">100</text><line x1="273.9" y1="318.7" x2="278.5" y2="318.7" stroke="#fff" stroke-width="0.6"/><line x1="292.3" y1="318.7" x2="296.9" y2="318.7" stroke="#fff" stroke-width="0.6"/><text x="302.8" y="321.9" fill="#000" font-size="8.9">75</text><line x1="273.9" y1="347.9" x2="278.5" y2="347.9" stroke="#fff" stroke-width="0.6"/><line x1="292.3" y1="347.9" x2="296.9" y2="347.9" stroke="#fff" stroke-width="0.6"/><text x="302.8" y="351.1" fill="#000" font-size="8.9">50</text><line x1="273.9" y1="377.1" x2="278.5" y2="377.1" stroke="#fff" stroke-width="0.6"/><line x1="292.3" y1="377.1" x2="296.9" y2="377.1" stroke="#fff" stroke-width="0.6"/><text x="302.8" y="380.3" fill="#000" font-size="8.9">25</text><line x1="273.9" y1="406.3" x2="278.5" y2="406.3" stroke="#fff" stroke-width="0.6"/><line x1="292.3" y1="406.3" x2="296.9" y2="406.3" stroke="#fff" stroke-width="0.6"/><text x="302.8" y="409.5" fill="#000" font-size="8.9">0</text><text x="273.9" y="272.6" fill="#000" font-size="9.4">Relative</text><text x="273.9" y="283.2" fill="#000" font-size="9.4">sensitivity</text><defs><linearGradient id="g608" x1="0" y1="0" x2="0" y2="1"><stop offset="0.00" stop-color="#000080"/><stop offset="0.05" stop-color="#210e86"/><stop offset="0.10" stop-color="#331b8d"/><stop offset="0.15" stop-color="#422893"/><stop offset="0.20" stop-color="#4f339a"/><stop offset="0.25" stop-color="#5c3fa0"/><stop offset="0.30" stop-color="#674ba6"/><stop offset="0.35" stop-color="#7357ad"/><stop offset="0.40" stop-color="#7e63b3"/><stop offset="0.45" stop-color="#896fba"/><stop offset="0.50" stop-color="#947bc0"/><stop offset="0.55" stop-color="#9f88c6"/><stop offset="0.60" stop-color="#aa95cd"/><stop offset="0.65" stop-color="#b5a1d3"/><stop offset="0.70" stop-color="#bfaed9"/><stop offset="0.75" stop-color="#cabbe0"/><stop offset="0.80" stop-color="#d4c9e6"/><stop offset="0.85" stop-color="#dfd6ec"/><stop offset="0.90" stop-color="#eae4f2"/><stop offset="0.95" stop-color="#f4f1f9"/><stop offset="1.00" stop-color="#ffffff"/></linearGradient></defs><rect x="608.6" y="289.5" width="23" height="116.8" fill="url(#g608)"/><line x1="608.6" y1="289.5" x2="613.2" y2="289.5" stroke="#fff" stroke-width="0.6"/><line x1="627.0" y1="289.5" x2="631.6" y2="289.5" stroke="#fff" stroke-width="0.6"/><text x="637.9" y="292.7" fill="#000" font-size="8.9">100</text><line x1="608.6" y1="318.7" x2="613.2" y2="318.7" stroke="#fff" stroke-width="0.6"/><line x1="627.0" y1="318.7" x2="631.6" y2="318.7" stroke="#fff" stroke-width="0.6"/><text x="637.9" y="321.9" fill="#000" font-size="8.9">75</text><line x1="608.6" y1="347.9" x2="613.2" y2="347.9" stroke="#fff" stroke-width="0.6"/><line x1="627.0" y1="347.9" x2="631.6" y2="347.9" stroke="#fff" stroke-width="0.6"/><text x="637.9" y="351.1" fill="#000" font-size="8.9">50</text><line x1="608.6" y1="377.1" x2="613.2" y2="377.1" stroke="#fff" stroke-width="0.6"/><line x1="627.0" y1="377.1" x2="631.6" y2="377.1" stroke="#fff" stroke-width="0.6"/><text x="637.9" y="380.3" fill="#000" font-size="8.9">25</text><line x1="608.6" y1="406.3" x2="613.2" y2="406.3" stroke="#fff" stroke-width="0.6"/><line x1="627.0" y1="406.3" x2="631.6" y2="406.3" stroke="#fff" stroke-width="0.6"/><text x="637.9" y="409.5" fill="#000" font-size="8.9">0</text><text x="608.6" y="272.6" fill="#000" font-size="9.4">Uncertainty</text><text x="608.6" y="283.2" fill="#000" font-size="9.4">reduction [%]</text><line x1="584.2" y1="470.3" x2="660.5" y2="470.3" stroke="#000" stroke-width="2.9" stroke-linecap="round"/><text x="622.4" y="479" font-size="9.2" text-anchor="middle" fill="#000">20 km</text></svg></body></html>
